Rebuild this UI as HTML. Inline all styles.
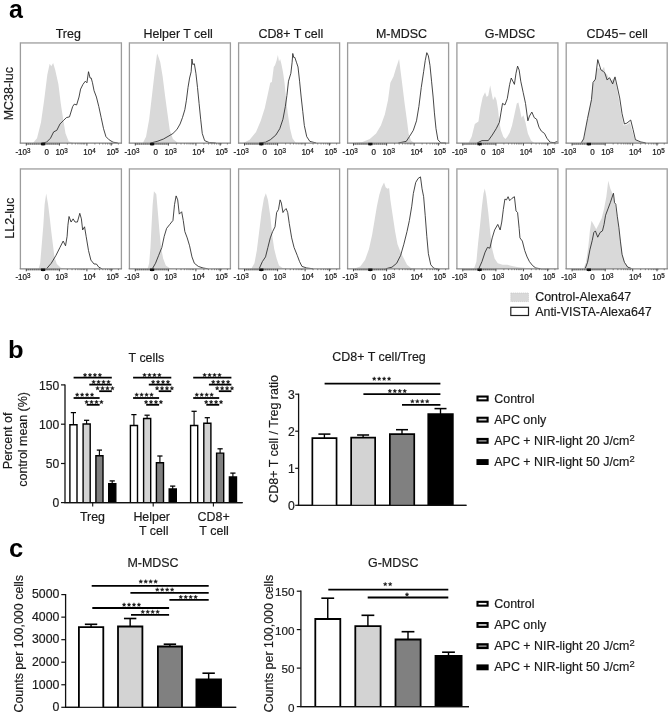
<!DOCTYPE html>
<html><head><meta charset="utf-8"><style>
html,body{margin:0;padding:0;background:#fff;}
body{width:669px;height:717px;overflow:hidden;}
svg{display:block;font-family:"Liberation Sans", sans-serif;will-change:transform;}
</style></head><body>
<svg width="669" height="717" viewBox="0 0 669 717">
<rect width="669" height="717" fill="#fff"/>
<text x="9.10" y="17.90" font-size="25" text-anchor="start" font-weight="bold" fill="#000" stroke="#000" stroke-width="0" >a</text>
<text x="68.25" y="37.80" font-size="12.45" text-anchor="middle" font-weight="normal" fill="#1a1a1a" stroke="#1a1a1a" stroke-width="0.18" >Treg</text>
<text x="178.10" y="37.80" font-size="12.45" text-anchor="middle" font-weight="normal" fill="#1a1a1a" stroke="#1a1a1a" stroke-width="0.18" >Helper T cell</text>
<text x="290.85" y="37.80" font-size="12.45" text-anchor="middle" font-weight="normal" fill="#1a1a1a" stroke="#1a1a1a" stroke-width="0.18" >CD8+ T cell</text>
<text x="401.50" y="37.80" font-size="12.45" text-anchor="middle" font-weight="normal" fill="#1a1a1a" stroke="#1a1a1a" stroke-width="0.18" >M-MDSC</text>
<text x="510.00" y="37.80" font-size="12.45" text-anchor="middle" font-weight="normal" fill="#1a1a1a" stroke="#1a1a1a" stroke-width="0.18" >G-MDSC</text>
<text x="617.20" y="37.80" font-size="12.45" text-anchor="middle" font-weight="normal" fill="#1a1a1a" stroke="#1a1a1a" stroke-width="0.18" >CD45− cell</text>
<text transform="translate(12.60,93.70) rotate(-90)" font-size="12.45" text-anchor="middle" fill="#1a1a1a" stroke="#1a1a1a" stroke-width="0.18">MC38-luc</text>
<text transform="translate(14.40,218.30) rotate(-90)" font-size="12.45" text-anchor="middle" fill="#1a1a1a" stroke="#1a1a1a" stroke-width="0.18">LL2-luc</text>
<path d="M33.05,142.99 L37.01,138.24 L40.97,122.39 L44.14,100.21 L47.31,74.86 L49.69,63.77 L51.27,66.14 L53.17,62.97 L55.23,70.10 L58.40,84.36 L60.78,103.38 L63.16,119.22 L65.53,133.48 L68.70,141.41 L73.46,142.67 L97.22,142.67 L119.41,142.99 L119.41,143.2 L33.05,143.2 Z" fill="#d9d9d9" stroke="none"/>
<path d="M41.77,142.99 L46.52,142.20 L50.48,138.24 L53.65,131.90 L56.82,130.31 L59.99,123.98 L63.16,120.81 L66.33,117.64 L69.49,116.85 L72.66,106.55 L74.25,104.17 L76.62,104.96 L79.00,97.04 L80.59,89.12 L82.96,84.36 L85.34,81.20 L86.92,82.78 L88.51,71.69 L90.09,78.03 L91.20,78.03 L92.47,82.78 L94.05,90.70 L96.43,97.04 L98.81,106.55 L101.18,117.64 L103.56,128.73 L105.94,136.65 L109.11,139.82 L113.07,142.20 L117.82,142.99" fill="none" stroke="#262626" stroke-width="0.85" stroke-linejoin="round"/>
<path d="M20.40,143.20 L20.40,42.90 L121.40,42.90 L121.40,143.20" fill="none" stroke="#9c9c9c" stroke-width="1.3"/>
<line x1="21.05" y1="42.90" x2="120.75" y2="42.90" stroke="#bcbcbc" stroke-width="1.3"/>
<line x1="19.75" y1="143.20" x2="122.05" y2="143.20" stroke="#858585" stroke-width="1.2"/>
<line x1="26.30" y1="144.10" x2="59.40" y2="144.10" stroke="#666" stroke-width="0.8"/>
<line x1="26.30" y1="143.2" x2="26.30" y2="145.6" stroke="#333" stroke-width="0.9"/>
<line x1="43.00" y1="143.2" x2="43.00" y2="145.6" stroke="#333" stroke-width="0.9"/>
<line x1="59.40" y1="143.2" x2="59.40" y2="145.6" stroke="#333" stroke-width="0.9"/>
<line x1="86.90" y1="143.2" x2="86.90" y2="145.6" stroke="#333" stroke-width="0.9"/>
<line x1="111.20" y1="143.2" x2="111.20" y2="145.6" stroke="#333" stroke-width="0.9"/>
<line x1="67.38" y1="143.2" x2="67.38" y2="144.5" stroke="#555" stroke-width="0.7"/>
<line x1="72.04" y1="143.2" x2="72.04" y2="144.5" stroke="#555" stroke-width="0.7"/>
<line x1="75.35" y1="143.2" x2="75.35" y2="144.5" stroke="#555" stroke-width="0.7"/>
<line x1="77.92" y1="143.2" x2="77.92" y2="144.5" stroke="#555" stroke-width="0.7"/>
<line x1="80.02" y1="143.2" x2="80.02" y2="144.5" stroke="#555" stroke-width="0.7"/>
<line x1="81.80" y1="143.2" x2="81.80" y2="144.5" stroke="#555" stroke-width="0.7"/>
<line x1="83.33" y1="143.2" x2="83.33" y2="144.5" stroke="#555" stroke-width="0.7"/>
<line x1="84.69" y1="143.2" x2="84.69" y2="144.5" stroke="#555" stroke-width="0.7"/>
<line x1="94.88" y1="143.2" x2="94.88" y2="144.5" stroke="#555" stroke-width="0.7"/>
<line x1="99.54" y1="143.2" x2="99.54" y2="144.5" stroke="#555" stroke-width="0.7"/>
<line x1="102.85" y1="143.2" x2="102.85" y2="144.5" stroke="#555" stroke-width="0.7"/>
<line x1="105.42" y1="143.2" x2="105.42" y2="144.5" stroke="#555" stroke-width="0.7"/>
<line x1="107.52" y1="143.2" x2="107.52" y2="144.5" stroke="#555" stroke-width="0.7"/>
<line x1="109.30" y1="143.2" x2="109.30" y2="144.5" stroke="#555" stroke-width="0.7"/>
<line x1="110.83" y1="143.2" x2="110.83" y2="144.5" stroke="#555" stroke-width="0.7"/>
<line x1="112.19" y1="143.2" x2="112.19" y2="144.5" stroke="#555" stroke-width="0.7"/>
<line x1="118.42" y1="143.2" x2="118.42" y2="144.5" stroke="#555" stroke-width="0.7"/>
<line x1="28.39" y1="143.2" x2="28.39" y2="144.5" stroke="#555" stroke-width="0.7"/>
<line x1="45.05" y1="143.2" x2="45.05" y2="144.5" stroke="#555" stroke-width="0.7"/>
<line x1="30.48" y1="143.2" x2="30.48" y2="144.5" stroke="#555" stroke-width="0.7"/>
<line x1="47.10" y1="143.2" x2="47.10" y2="144.5" stroke="#555" stroke-width="0.7"/>
<line x1="32.56" y1="143.2" x2="32.56" y2="144.5" stroke="#555" stroke-width="0.7"/>
<line x1="49.15" y1="143.2" x2="49.15" y2="144.5" stroke="#555" stroke-width="0.7"/>
<line x1="34.65" y1="143.2" x2="34.65" y2="144.5" stroke="#555" stroke-width="0.7"/>
<line x1="51.20" y1="143.2" x2="51.20" y2="144.5" stroke="#555" stroke-width="0.7"/>
<line x1="36.74" y1="143.2" x2="36.74" y2="144.5" stroke="#555" stroke-width="0.7"/>
<line x1="53.25" y1="143.2" x2="53.25" y2="144.5" stroke="#555" stroke-width="0.7"/>
<line x1="38.83" y1="143.2" x2="38.83" y2="144.5" stroke="#555" stroke-width="0.7"/>
<line x1="55.30" y1="143.2" x2="55.30" y2="144.5" stroke="#555" stroke-width="0.7"/>
<line x1="40.91" y1="143.2" x2="40.91" y2="144.5" stroke="#555" stroke-width="0.7"/>
<line x1="57.35" y1="143.2" x2="57.35" y2="144.5" stroke="#555" stroke-width="0.7"/>
<rect x="41.00" y="142.80" width="4.2" height="2.5" fill="#111"/>
<text x="15.40" y="154.6" font-size="8.2" fill="#1a1a1a" stroke="#1a1a1a" stroke-width="0.22" transform="translate(15.40,0) scale(0.98,1) translate(-15.40,0)">-10<tspan font-size="6.4" dy="-2.0">3</tspan></text>
<text x="44.40" y="154.6" font-size="8.2" fill="#1a1a1a" stroke="#1a1a1a" stroke-width="0.22" transform="translate(44.40,0) scale(0.98,1) translate(-44.40,0)">0</text>
<text x="55.40" y="154.6" font-size="8.2" fill="#1a1a1a" stroke="#1a1a1a" stroke-width="0.22" transform="translate(55.40,0) scale(0.98,1) translate(-55.40,0)">10<tspan font-size="6.4" dy="-2.0">3</tspan></text>
<text x="83.20" y="154.6" font-size="8.2" fill="#1a1a1a" stroke="#1a1a1a" stroke-width="0.22" transform="translate(83.20,0) scale(0.98,1) translate(-83.20,0)">10<tspan font-size="6.4" dy="-2.0">4</tspan></text>
<text x="106.40" y="154.6" font-size="8.2" fill="#1a1a1a" stroke="#1a1a1a" stroke-width="0.22" transform="translate(106.40,0) scale(0.98,1) translate(-106.40,0)">10<tspan font-size="6.4" dy="-2.0">5</tspan></text>
<path d="M142.84,142.99 L146.01,136.65 L149.18,119.22 L152.35,92.29 L154.73,71.69 L157.10,53.47 L158.69,57.43 L160.27,62.18 L162.65,76.44 L165.03,95.46 L167.40,112.88 L169.78,130.31 L172.95,139.03 L177.70,142.67 L180.87,142.99 L180.87,143.2 L142.84,143.2 Z" fill="#d9d9d9" stroke="none"/>
<path d="M150.77,142.99 L157.10,141.41 L163.44,139.03 L168.99,135.86 L172.95,133.48 L176.91,129.52 L180.08,123.98 L182.46,117.64 L184.83,109.72 L186.42,100.21 L188.00,87.53 L189.59,78.03 L191.17,71.69 L191.96,59.01 L192.75,64.56 L194.34,63.77 L195.92,73.27 L197.51,87.53 L199.09,103.38 L200.68,119.22 L202.26,133.48 L204.64,140.61 L209.39,142.67 L215.73,142.99" fill="none" stroke="#262626" stroke-width="0.85" stroke-linejoin="round"/>
<path d="M129.40,143.20 L129.40,42.90 L230.40,42.90 L230.40,143.20" fill="none" stroke="#9c9c9c" stroke-width="1.3"/>
<line x1="130.05" y1="42.90" x2="229.75" y2="42.90" stroke="#bcbcbc" stroke-width="1.3"/>
<line x1="128.75" y1="143.20" x2="231.05" y2="143.20" stroke="#858585" stroke-width="1.2"/>
<line x1="135.30" y1="144.10" x2="168.40" y2="144.10" stroke="#666" stroke-width="0.8"/>
<line x1="135.30" y1="143.2" x2="135.30" y2="145.6" stroke="#333" stroke-width="0.9"/>
<line x1="152.00" y1="143.2" x2="152.00" y2="145.6" stroke="#333" stroke-width="0.9"/>
<line x1="168.40" y1="143.2" x2="168.40" y2="145.6" stroke="#333" stroke-width="0.9"/>
<line x1="195.90" y1="143.2" x2="195.90" y2="145.6" stroke="#333" stroke-width="0.9"/>
<line x1="220.20" y1="143.2" x2="220.20" y2="145.6" stroke="#333" stroke-width="0.9"/>
<line x1="176.38" y1="143.2" x2="176.38" y2="144.5" stroke="#555" stroke-width="0.7"/>
<line x1="181.04" y1="143.2" x2="181.04" y2="144.5" stroke="#555" stroke-width="0.7"/>
<line x1="184.35" y1="143.2" x2="184.35" y2="144.5" stroke="#555" stroke-width="0.7"/>
<line x1="186.92" y1="143.2" x2="186.92" y2="144.5" stroke="#555" stroke-width="0.7"/>
<line x1="189.02" y1="143.2" x2="189.02" y2="144.5" stroke="#555" stroke-width="0.7"/>
<line x1="190.80" y1="143.2" x2="190.80" y2="144.5" stroke="#555" stroke-width="0.7"/>
<line x1="192.33" y1="143.2" x2="192.33" y2="144.5" stroke="#555" stroke-width="0.7"/>
<line x1="193.69" y1="143.2" x2="193.69" y2="144.5" stroke="#555" stroke-width="0.7"/>
<line x1="203.88" y1="143.2" x2="203.88" y2="144.5" stroke="#555" stroke-width="0.7"/>
<line x1="208.54" y1="143.2" x2="208.54" y2="144.5" stroke="#555" stroke-width="0.7"/>
<line x1="211.85" y1="143.2" x2="211.85" y2="144.5" stroke="#555" stroke-width="0.7"/>
<line x1="214.42" y1="143.2" x2="214.42" y2="144.5" stroke="#555" stroke-width="0.7"/>
<line x1="216.52" y1="143.2" x2="216.52" y2="144.5" stroke="#555" stroke-width="0.7"/>
<line x1="218.30" y1="143.2" x2="218.30" y2="144.5" stroke="#555" stroke-width="0.7"/>
<line x1="219.83" y1="143.2" x2="219.83" y2="144.5" stroke="#555" stroke-width="0.7"/>
<line x1="221.19" y1="143.2" x2="221.19" y2="144.5" stroke="#555" stroke-width="0.7"/>
<line x1="227.42" y1="143.2" x2="227.42" y2="144.5" stroke="#555" stroke-width="0.7"/>
<line x1="137.39" y1="143.2" x2="137.39" y2="144.5" stroke="#555" stroke-width="0.7"/>
<line x1="154.05" y1="143.2" x2="154.05" y2="144.5" stroke="#555" stroke-width="0.7"/>
<line x1="139.47" y1="143.2" x2="139.47" y2="144.5" stroke="#555" stroke-width="0.7"/>
<line x1="156.10" y1="143.2" x2="156.10" y2="144.5" stroke="#555" stroke-width="0.7"/>
<line x1="141.56" y1="143.2" x2="141.56" y2="144.5" stroke="#555" stroke-width="0.7"/>
<line x1="158.15" y1="143.2" x2="158.15" y2="144.5" stroke="#555" stroke-width="0.7"/>
<line x1="143.65" y1="143.2" x2="143.65" y2="144.5" stroke="#555" stroke-width="0.7"/>
<line x1="160.20" y1="143.2" x2="160.20" y2="144.5" stroke="#555" stroke-width="0.7"/>
<line x1="145.74" y1="143.2" x2="145.74" y2="144.5" stroke="#555" stroke-width="0.7"/>
<line x1="162.25" y1="143.2" x2="162.25" y2="144.5" stroke="#555" stroke-width="0.7"/>
<line x1="147.83" y1="143.2" x2="147.83" y2="144.5" stroke="#555" stroke-width="0.7"/>
<line x1="164.30" y1="143.2" x2="164.30" y2="144.5" stroke="#555" stroke-width="0.7"/>
<line x1="149.91" y1="143.2" x2="149.91" y2="144.5" stroke="#555" stroke-width="0.7"/>
<line x1="166.35" y1="143.2" x2="166.35" y2="144.5" stroke="#555" stroke-width="0.7"/>
<rect x="150.00" y="142.80" width="4.2" height="2.5" fill="#111"/>
<text x="124.40" y="154.6" font-size="8.2" fill="#1a1a1a" stroke="#1a1a1a" stroke-width="0.22" transform="translate(124.40,0) scale(0.98,1) translate(-124.40,0)">-10<tspan font-size="6.4" dy="-2.0">3</tspan></text>
<text x="153.40" y="154.6" font-size="8.2" fill="#1a1a1a" stroke="#1a1a1a" stroke-width="0.22" transform="translate(153.40,0) scale(0.98,1) translate(-153.40,0)">0</text>
<text x="164.40" y="154.6" font-size="8.2" fill="#1a1a1a" stroke="#1a1a1a" stroke-width="0.22" transform="translate(164.40,0) scale(0.98,1) translate(-164.40,0)">10<tspan font-size="6.4" dy="-2.0">3</tspan></text>
<text x="192.20" y="154.6" font-size="8.2" fill="#1a1a1a" stroke="#1a1a1a" stroke-width="0.22" transform="translate(192.20,0) scale(0.98,1) translate(-192.20,0)">10<tspan font-size="6.4" dy="-2.0">4</tspan></text>
<text x="215.40" y="154.6" font-size="8.2" fill="#1a1a1a" stroke="#1a1a1a" stroke-width="0.22" transform="translate(215.40,0) scale(0.98,1) translate(-215.40,0)">10<tspan font-size="6.4" dy="-2.0">5</tspan></text>
<path d="M243.34,142.99 L249.68,139.82 L256.01,131.90 L260.77,120.81 L264.73,108.13 L267.90,93.87 L270.27,82.78 L271.86,81.99 L273.76,66.94 L275.03,65.35 L276.61,60.60 L277.88,55.05 L278.99,61.39 L280.10,59.01 L281.36,63.77 L282.95,71.69 L284.53,82.78 L286.12,98.62 L287.70,112.88 L290.08,128.73 L292.46,138.24 L295.62,142.67 L298.79,142.99 L298.79,143.2 L243.34,143.2 Z" fill="#d9d9d9" stroke="none"/>
<path d="M259.18,142.99 L265.52,142.20 L270.27,139.82 L275.82,135.07 L279.78,128.73 L282.95,119.22 L285.33,106.55 L286.91,95.46 L288.49,81.20 L290.87,73.27 L292.14,62.18 L292.77,53.47 L293.72,57.43 L294.83,57.43 L296.42,62.18 L298.00,66.94 L299.59,81.20 L301.17,97.04 L302.75,111.30 L304.34,125.56 L306.72,136.65 L309.88,141.41 L316.22,142.99" fill="none" stroke="#262626" stroke-width="0.85" stroke-linejoin="round"/>
<path d="M238.60,143.20 L238.60,42.90 L339.60,42.90 L339.60,143.20" fill="none" stroke="#9c9c9c" stroke-width="1.3"/>
<line x1="239.25" y1="42.90" x2="338.95" y2="42.90" stroke="#bcbcbc" stroke-width="1.3"/>
<line x1="237.95" y1="143.20" x2="340.25" y2="143.20" stroke="#858585" stroke-width="1.2"/>
<line x1="244.50" y1="144.10" x2="277.60" y2="144.10" stroke="#666" stroke-width="0.8"/>
<line x1="244.50" y1="143.2" x2="244.50" y2="145.6" stroke="#333" stroke-width="0.9"/>
<line x1="261.20" y1="143.2" x2="261.20" y2="145.6" stroke="#333" stroke-width="0.9"/>
<line x1="277.60" y1="143.2" x2="277.60" y2="145.6" stroke="#333" stroke-width="0.9"/>
<line x1="305.10" y1="143.2" x2="305.10" y2="145.6" stroke="#333" stroke-width="0.9"/>
<line x1="329.40" y1="143.2" x2="329.40" y2="145.6" stroke="#333" stroke-width="0.9"/>
<line x1="285.58" y1="143.2" x2="285.58" y2="144.5" stroke="#555" stroke-width="0.7"/>
<line x1="290.24" y1="143.2" x2="290.24" y2="144.5" stroke="#555" stroke-width="0.7"/>
<line x1="293.55" y1="143.2" x2="293.55" y2="144.5" stroke="#555" stroke-width="0.7"/>
<line x1="296.12" y1="143.2" x2="296.12" y2="144.5" stroke="#555" stroke-width="0.7"/>
<line x1="298.22" y1="143.2" x2="298.22" y2="144.5" stroke="#555" stroke-width="0.7"/>
<line x1="300.00" y1="143.2" x2="300.00" y2="144.5" stroke="#555" stroke-width="0.7"/>
<line x1="301.53" y1="143.2" x2="301.53" y2="144.5" stroke="#555" stroke-width="0.7"/>
<line x1="302.89" y1="143.2" x2="302.89" y2="144.5" stroke="#555" stroke-width="0.7"/>
<line x1="313.08" y1="143.2" x2="313.08" y2="144.5" stroke="#555" stroke-width="0.7"/>
<line x1="317.74" y1="143.2" x2="317.74" y2="144.5" stroke="#555" stroke-width="0.7"/>
<line x1="321.05" y1="143.2" x2="321.05" y2="144.5" stroke="#555" stroke-width="0.7"/>
<line x1="323.62" y1="143.2" x2="323.62" y2="144.5" stroke="#555" stroke-width="0.7"/>
<line x1="325.72" y1="143.2" x2="325.72" y2="144.5" stroke="#555" stroke-width="0.7"/>
<line x1="327.50" y1="143.2" x2="327.50" y2="144.5" stroke="#555" stroke-width="0.7"/>
<line x1="329.03" y1="143.2" x2="329.03" y2="144.5" stroke="#555" stroke-width="0.7"/>
<line x1="330.39" y1="143.2" x2="330.39" y2="144.5" stroke="#555" stroke-width="0.7"/>
<line x1="336.62" y1="143.2" x2="336.62" y2="144.5" stroke="#555" stroke-width="0.7"/>
<line x1="246.59" y1="143.2" x2="246.59" y2="144.5" stroke="#555" stroke-width="0.7"/>
<line x1="263.25" y1="143.2" x2="263.25" y2="144.5" stroke="#555" stroke-width="0.7"/>
<line x1="248.67" y1="143.2" x2="248.67" y2="144.5" stroke="#555" stroke-width="0.7"/>
<line x1="265.30" y1="143.2" x2="265.30" y2="144.5" stroke="#555" stroke-width="0.7"/>
<line x1="250.76" y1="143.2" x2="250.76" y2="144.5" stroke="#555" stroke-width="0.7"/>
<line x1="267.35" y1="143.2" x2="267.35" y2="144.5" stroke="#555" stroke-width="0.7"/>
<line x1="252.85" y1="143.2" x2="252.85" y2="144.5" stroke="#555" stroke-width="0.7"/>
<line x1="269.40" y1="143.2" x2="269.40" y2="144.5" stroke="#555" stroke-width="0.7"/>
<line x1="254.94" y1="143.2" x2="254.94" y2="144.5" stroke="#555" stroke-width="0.7"/>
<line x1="271.45" y1="143.2" x2="271.45" y2="144.5" stroke="#555" stroke-width="0.7"/>
<line x1="257.02" y1="143.2" x2="257.02" y2="144.5" stroke="#555" stroke-width="0.7"/>
<line x1="273.50" y1="143.2" x2="273.50" y2="144.5" stroke="#555" stroke-width="0.7"/>
<line x1="259.11" y1="143.2" x2="259.11" y2="144.5" stroke="#555" stroke-width="0.7"/>
<line x1="275.55" y1="143.2" x2="275.55" y2="144.5" stroke="#555" stroke-width="0.7"/>
<rect x="259.20" y="142.80" width="4.2" height="2.5" fill="#111"/>
<text x="233.60" y="154.6" font-size="8.2" fill="#1a1a1a" stroke="#1a1a1a" stroke-width="0.22" transform="translate(233.60,0) scale(0.98,1) translate(-233.60,0)">-10<tspan font-size="6.4" dy="-2.0">3</tspan></text>
<text x="262.60" y="154.6" font-size="8.2" fill="#1a1a1a" stroke="#1a1a1a" stroke-width="0.22" transform="translate(262.60,0) scale(0.98,1) translate(-262.60,0)">0</text>
<text x="273.60" y="154.6" font-size="8.2" fill="#1a1a1a" stroke="#1a1a1a" stroke-width="0.22" transform="translate(273.60,0) scale(0.98,1) translate(-273.60,0)">10<tspan font-size="6.4" dy="-2.0">3</tspan></text>
<text x="301.40" y="154.6" font-size="8.2" fill="#1a1a1a" stroke="#1a1a1a" stroke-width="0.22" transform="translate(301.40,0) scale(0.98,1) translate(-301.40,0)">10<tspan font-size="6.4" dy="-2.0">4</tspan></text>
<text x="324.60" y="154.6" font-size="8.2" fill="#1a1a1a" stroke="#1a1a1a" stroke-width="0.22" transform="translate(324.60,0) scale(0.98,1) translate(-324.60,0)">10<tspan font-size="6.4" dy="-2.0">5</tspan></text>
<path d="M352.34,142.99 L361.84,142.20 L369.77,139.03 L376.10,133.48 L380.86,125.56 L384.82,114.47 L387.99,100.21 L390.36,82.78 L393.53,76.44 L395.91,68.52 L397.49,63.77 L399.08,59.01 L400.66,71.69 L402.25,84.36 L404.62,103.38 L407.00,120.81 L408.59,133.48 L410.96,140.61 L414.13,142.99 L414.13,143.2 L352.34,143.2 Z" fill="#d9d9d9" stroke="none"/>
<path d="M398.29,142.99 L406.21,141.41 L409.38,136.65 L413.34,130.31 L416.51,120.81 L418.88,106.55 L421.26,87.53 L423.64,71.69 L425.22,60.60 L426.81,52.68 L428.39,55.84 L429.98,65.35 L431.56,81.20 L433.14,97.04 L434.41,112.88 L436.00,128.73 L437.90,139.82 L441.07,142.99 L445.82,142.99" fill="none" stroke="#262626" stroke-width="0.85" stroke-linejoin="round"/>
<path d="M347.60,143.20 L347.60,42.90 L448.60,42.90 L448.60,143.20" fill="none" stroke="#9c9c9c" stroke-width="1.3"/>
<line x1="348.25" y1="42.90" x2="447.95" y2="42.90" stroke="#bcbcbc" stroke-width="1.3"/>
<line x1="346.95" y1="143.20" x2="449.25" y2="143.20" stroke="#858585" stroke-width="1.2"/>
<line x1="353.50" y1="144.10" x2="386.60" y2="144.10" stroke="#666" stroke-width="0.8"/>
<line x1="353.50" y1="143.2" x2="353.50" y2="145.6" stroke="#333" stroke-width="0.9"/>
<line x1="370.20" y1="143.2" x2="370.20" y2="145.6" stroke="#333" stroke-width="0.9"/>
<line x1="386.60" y1="143.2" x2="386.60" y2="145.6" stroke="#333" stroke-width="0.9"/>
<line x1="414.10" y1="143.2" x2="414.10" y2="145.6" stroke="#333" stroke-width="0.9"/>
<line x1="438.40" y1="143.2" x2="438.40" y2="145.6" stroke="#333" stroke-width="0.9"/>
<line x1="394.58" y1="143.2" x2="394.58" y2="144.5" stroke="#555" stroke-width="0.7"/>
<line x1="399.24" y1="143.2" x2="399.24" y2="144.5" stroke="#555" stroke-width="0.7"/>
<line x1="402.55" y1="143.2" x2="402.55" y2="144.5" stroke="#555" stroke-width="0.7"/>
<line x1="405.12" y1="143.2" x2="405.12" y2="144.5" stroke="#555" stroke-width="0.7"/>
<line x1="407.22" y1="143.2" x2="407.22" y2="144.5" stroke="#555" stroke-width="0.7"/>
<line x1="409.00" y1="143.2" x2="409.00" y2="144.5" stroke="#555" stroke-width="0.7"/>
<line x1="410.53" y1="143.2" x2="410.53" y2="144.5" stroke="#555" stroke-width="0.7"/>
<line x1="411.89" y1="143.2" x2="411.89" y2="144.5" stroke="#555" stroke-width="0.7"/>
<line x1="422.08" y1="143.2" x2="422.08" y2="144.5" stroke="#555" stroke-width="0.7"/>
<line x1="426.74" y1="143.2" x2="426.74" y2="144.5" stroke="#555" stroke-width="0.7"/>
<line x1="430.05" y1="143.2" x2="430.05" y2="144.5" stroke="#555" stroke-width="0.7"/>
<line x1="432.62" y1="143.2" x2="432.62" y2="144.5" stroke="#555" stroke-width="0.7"/>
<line x1="434.72" y1="143.2" x2="434.72" y2="144.5" stroke="#555" stroke-width="0.7"/>
<line x1="436.50" y1="143.2" x2="436.50" y2="144.5" stroke="#555" stroke-width="0.7"/>
<line x1="438.03" y1="143.2" x2="438.03" y2="144.5" stroke="#555" stroke-width="0.7"/>
<line x1="439.39" y1="143.2" x2="439.39" y2="144.5" stroke="#555" stroke-width="0.7"/>
<line x1="445.62" y1="143.2" x2="445.62" y2="144.5" stroke="#555" stroke-width="0.7"/>
<line x1="355.59" y1="143.2" x2="355.59" y2="144.5" stroke="#555" stroke-width="0.7"/>
<line x1="372.25" y1="143.2" x2="372.25" y2="144.5" stroke="#555" stroke-width="0.7"/>
<line x1="357.68" y1="143.2" x2="357.68" y2="144.5" stroke="#555" stroke-width="0.7"/>
<line x1="374.30" y1="143.2" x2="374.30" y2="144.5" stroke="#555" stroke-width="0.7"/>
<line x1="359.76" y1="143.2" x2="359.76" y2="144.5" stroke="#555" stroke-width="0.7"/>
<line x1="376.35" y1="143.2" x2="376.35" y2="144.5" stroke="#555" stroke-width="0.7"/>
<line x1="361.85" y1="143.2" x2="361.85" y2="144.5" stroke="#555" stroke-width="0.7"/>
<line x1="378.40" y1="143.2" x2="378.40" y2="144.5" stroke="#555" stroke-width="0.7"/>
<line x1="363.94" y1="143.2" x2="363.94" y2="144.5" stroke="#555" stroke-width="0.7"/>
<line x1="380.45" y1="143.2" x2="380.45" y2="144.5" stroke="#555" stroke-width="0.7"/>
<line x1="366.03" y1="143.2" x2="366.03" y2="144.5" stroke="#555" stroke-width="0.7"/>
<line x1="382.50" y1="143.2" x2="382.50" y2="144.5" stroke="#555" stroke-width="0.7"/>
<line x1="368.11" y1="143.2" x2="368.11" y2="144.5" stroke="#555" stroke-width="0.7"/>
<line x1="384.55" y1="143.2" x2="384.55" y2="144.5" stroke="#555" stroke-width="0.7"/>
<rect x="368.20" y="142.80" width="4.2" height="2.5" fill="#111"/>
<text x="342.60" y="154.6" font-size="8.2" fill="#1a1a1a" stroke="#1a1a1a" stroke-width="0.22" transform="translate(342.60,0) scale(0.98,1) translate(-342.60,0)">-10<tspan font-size="6.4" dy="-2.0">3</tspan></text>
<text x="371.60" y="154.6" font-size="8.2" fill="#1a1a1a" stroke="#1a1a1a" stroke-width="0.22" transform="translate(371.60,0) scale(0.98,1) translate(-371.60,0)">0</text>
<text x="382.60" y="154.6" font-size="8.2" fill="#1a1a1a" stroke="#1a1a1a" stroke-width="0.22" transform="translate(382.60,0) scale(0.98,1) translate(-382.60,0)">10<tspan font-size="6.4" dy="-2.0">3</tspan></text>
<text x="410.40" y="154.6" font-size="8.2" fill="#1a1a1a" stroke="#1a1a1a" stroke-width="0.22" transform="translate(410.40,0) scale(0.98,1) translate(-410.40,0)">10<tspan font-size="6.4" dy="-2.0">4</tspan></text>
<text x="433.60" y="154.6" font-size="8.2" fill="#1a1a1a" stroke="#1a1a1a" stroke-width="0.22" transform="translate(433.60,0) scale(0.98,1) translate(-433.60,0)">10<tspan font-size="6.4" dy="-2.0">5</tspan></text>
<path d="M468.47,142.99 L471.64,136.65 L474.81,123.98 L478.45,121.60 L480.35,108.13 L482.73,97.04 L485.10,92.29 L486.69,97.04 L488.27,95.46 L490.17,85.16 L491.76,93.87 L493.03,100.21 L494.93,96.25 L496.51,100.21 L498.10,109.72 L499.36,122.39 L500.95,130.31 L503.33,136.65 L505.39,139.03 L507.29,136.65 L509.66,132.69 L512.04,125.56 L514.42,114.47 L516.79,103.38 L518.38,102.59 L519.96,109.72 L521.55,117.64 L523.45,115.26 L525.51,122.39 L527.88,133.48 L531.05,140.61 L534.22,142.99 L534.22,143.2 L468.47,143.2 Z" fill="#d9d9d9" stroke="none"/>
<path d="M477.18,142.99 L481.94,140.61 L488.27,140.61 L492.23,135.07 L496.20,128.73 L499.36,122.39 L500.95,112.88 L502.53,103.38 L504.91,104.96 L507.29,98.62 L509.66,84.36 L511.25,78.03 L514.42,84.36 L516.00,73.27 L517.59,66.14 L519.17,70.10 L520.75,81.20 L523.13,92.29 L525.51,103.38 L527.88,120.81 L529.47,116.05 L531.85,112.09 L534.22,117.64 L536.60,119.22 L538.98,127.14 L541.35,131.11 L544.52,133.48 L546.90,138.24 L550.07,142.20 L554.03,142.67 L557.67,141.41" fill="none" stroke="#262626" stroke-width="0.85" stroke-linejoin="round"/>
<path d="M456.90,143.20 L456.90,42.90 L557.90,42.90 L557.90,143.20" fill="none" stroke="#9c9c9c" stroke-width="1.3"/>
<line x1="457.55" y1="42.90" x2="557.25" y2="42.90" stroke="#bcbcbc" stroke-width="1.3"/>
<line x1="456.25" y1="143.20" x2="558.55" y2="143.20" stroke="#858585" stroke-width="1.2"/>
<line x1="462.80" y1="144.10" x2="495.90" y2="144.10" stroke="#666" stroke-width="0.8"/>
<line x1="462.80" y1="143.2" x2="462.80" y2="145.6" stroke="#333" stroke-width="0.9"/>
<line x1="479.50" y1="143.2" x2="479.50" y2="145.6" stroke="#333" stroke-width="0.9"/>
<line x1="495.90" y1="143.2" x2="495.90" y2="145.6" stroke="#333" stroke-width="0.9"/>
<line x1="523.40" y1="143.2" x2="523.40" y2="145.6" stroke="#333" stroke-width="0.9"/>
<line x1="547.70" y1="143.2" x2="547.70" y2="145.6" stroke="#333" stroke-width="0.9"/>
<line x1="503.88" y1="143.2" x2="503.88" y2="144.5" stroke="#555" stroke-width="0.7"/>
<line x1="508.54" y1="143.2" x2="508.54" y2="144.5" stroke="#555" stroke-width="0.7"/>
<line x1="511.85" y1="143.2" x2="511.85" y2="144.5" stroke="#555" stroke-width="0.7"/>
<line x1="514.42" y1="143.2" x2="514.42" y2="144.5" stroke="#555" stroke-width="0.7"/>
<line x1="516.52" y1="143.2" x2="516.52" y2="144.5" stroke="#555" stroke-width="0.7"/>
<line x1="518.30" y1="143.2" x2="518.30" y2="144.5" stroke="#555" stroke-width="0.7"/>
<line x1="519.83" y1="143.2" x2="519.83" y2="144.5" stroke="#555" stroke-width="0.7"/>
<line x1="521.19" y1="143.2" x2="521.19" y2="144.5" stroke="#555" stroke-width="0.7"/>
<line x1="531.38" y1="143.2" x2="531.38" y2="144.5" stroke="#555" stroke-width="0.7"/>
<line x1="536.04" y1="143.2" x2="536.04" y2="144.5" stroke="#555" stroke-width="0.7"/>
<line x1="539.35" y1="143.2" x2="539.35" y2="144.5" stroke="#555" stroke-width="0.7"/>
<line x1="541.92" y1="143.2" x2="541.92" y2="144.5" stroke="#555" stroke-width="0.7"/>
<line x1="544.02" y1="143.2" x2="544.02" y2="144.5" stroke="#555" stroke-width="0.7"/>
<line x1="545.80" y1="143.2" x2="545.80" y2="144.5" stroke="#555" stroke-width="0.7"/>
<line x1="547.33" y1="143.2" x2="547.33" y2="144.5" stroke="#555" stroke-width="0.7"/>
<line x1="548.69" y1="143.2" x2="548.69" y2="144.5" stroke="#555" stroke-width="0.7"/>
<line x1="554.92" y1="143.2" x2="554.92" y2="144.5" stroke="#555" stroke-width="0.7"/>
<line x1="464.89" y1="143.2" x2="464.89" y2="144.5" stroke="#555" stroke-width="0.7"/>
<line x1="481.55" y1="143.2" x2="481.55" y2="144.5" stroke="#555" stroke-width="0.7"/>
<line x1="466.97" y1="143.2" x2="466.97" y2="144.5" stroke="#555" stroke-width="0.7"/>
<line x1="483.60" y1="143.2" x2="483.60" y2="144.5" stroke="#555" stroke-width="0.7"/>
<line x1="469.06" y1="143.2" x2="469.06" y2="144.5" stroke="#555" stroke-width="0.7"/>
<line x1="485.65" y1="143.2" x2="485.65" y2="144.5" stroke="#555" stroke-width="0.7"/>
<line x1="471.15" y1="143.2" x2="471.15" y2="144.5" stroke="#555" stroke-width="0.7"/>
<line x1="487.70" y1="143.2" x2="487.70" y2="144.5" stroke="#555" stroke-width="0.7"/>
<line x1="473.24" y1="143.2" x2="473.24" y2="144.5" stroke="#555" stroke-width="0.7"/>
<line x1="489.75" y1="143.2" x2="489.75" y2="144.5" stroke="#555" stroke-width="0.7"/>
<line x1="475.32" y1="143.2" x2="475.32" y2="144.5" stroke="#555" stroke-width="0.7"/>
<line x1="491.80" y1="143.2" x2="491.80" y2="144.5" stroke="#555" stroke-width="0.7"/>
<line x1="477.41" y1="143.2" x2="477.41" y2="144.5" stroke="#555" stroke-width="0.7"/>
<line x1="493.85" y1="143.2" x2="493.85" y2="144.5" stroke="#555" stroke-width="0.7"/>
<rect x="477.50" y="142.80" width="4.2" height="2.5" fill="#111"/>
<text x="451.90" y="154.6" font-size="8.2" fill="#1a1a1a" stroke="#1a1a1a" stroke-width="0.22" transform="translate(451.90,0) scale(0.98,1) translate(-451.90,0)">-10<tspan font-size="6.4" dy="-2.0">3</tspan></text>
<text x="480.90" y="154.6" font-size="8.2" fill="#1a1a1a" stroke="#1a1a1a" stroke-width="0.22" transform="translate(480.90,0) scale(0.98,1) translate(-480.90,0)">0</text>
<text x="491.90" y="154.6" font-size="8.2" fill="#1a1a1a" stroke="#1a1a1a" stroke-width="0.22" transform="translate(491.90,0) scale(0.98,1) translate(-491.90,0)">10<tspan font-size="6.4" dy="-2.0">3</tspan></text>
<text x="519.70" y="154.6" font-size="8.2" fill="#1a1a1a" stroke="#1a1a1a" stroke-width="0.22" transform="translate(519.70,0) scale(0.98,1) translate(-519.70,0)">10<tspan font-size="6.4" dy="-2.0">4</tspan></text>
<text x="542.90" y="154.6" font-size="8.2" fill="#1a1a1a" stroke="#1a1a1a" stroke-width="0.22" transform="translate(542.90,0) scale(0.98,1) translate(-542.90,0)">10<tspan font-size="6.4" dy="-2.0">5</tspan></text>
<path d="M581.26,142.80 L584.40,137.31 L587.54,118.48 L590.68,102.78 L593.04,83.95 L595.39,77.67 L596.96,68.25 L599.31,68.25 L601.67,70.61 L604.02,66.68 L605.59,73.74 L607.16,74.53 L608.73,77.67 L611.09,80.81 L614.22,77.67 L616.58,87.09 L618.93,99.64 L621.29,113.77 L623.64,125.54 L626.78,124.75 L629.92,122.40 L632.27,131.03 L634.63,138.88 L639.34,142.02 L645.61,142.80 L645.61,143.2 L581.26,143.2 Z" fill="#d9d9d9" stroke="none"/>
<path d="M581.26,142.80 L583.62,138.88 L587.54,118.48 L591.47,99.64 L593.04,82.38 L595.39,79.24 L597.74,59.62 L600.88,69.82 L603.24,71.39 L604.81,72.96 L607.16,80.02 L609.52,77.67 L612.65,83.95 L615.01,76.88 L617.36,87.09 L619.72,98.07 L622.07,113.77 L624.43,123.97 L626.78,123.18 L630.70,120.04 L633.06,129.46 L635.41,139.66 L640.91,142.02 L645.61,142.80" fill="none" stroke="#262626" stroke-width="0.85" stroke-linejoin="round"/>
<path d="M566.20,143.20 L566.20,42.90 L667.20,42.90 L667.20,143.20" fill="none" stroke="#9c9c9c" stroke-width="1.3"/>
<line x1="566.85" y1="42.90" x2="666.55" y2="42.90" stroke="#bcbcbc" stroke-width="1.3"/>
<line x1="565.55" y1="143.20" x2="667.85" y2="143.20" stroke="#858585" stroke-width="1.2"/>
<line x1="572.10" y1="144.10" x2="605.20" y2="144.10" stroke="#666" stroke-width="0.8"/>
<line x1="572.10" y1="143.2" x2="572.10" y2="145.6" stroke="#333" stroke-width="0.9"/>
<line x1="588.80" y1="143.2" x2="588.80" y2="145.6" stroke="#333" stroke-width="0.9"/>
<line x1="605.20" y1="143.2" x2="605.20" y2="145.6" stroke="#333" stroke-width="0.9"/>
<line x1="632.70" y1="143.2" x2="632.70" y2="145.6" stroke="#333" stroke-width="0.9"/>
<line x1="657.00" y1="143.2" x2="657.00" y2="145.6" stroke="#333" stroke-width="0.9"/>
<line x1="613.18" y1="143.2" x2="613.18" y2="144.5" stroke="#555" stroke-width="0.7"/>
<line x1="617.84" y1="143.2" x2="617.84" y2="144.5" stroke="#555" stroke-width="0.7"/>
<line x1="621.15" y1="143.2" x2="621.15" y2="144.5" stroke="#555" stroke-width="0.7"/>
<line x1="623.72" y1="143.2" x2="623.72" y2="144.5" stroke="#555" stroke-width="0.7"/>
<line x1="625.82" y1="143.2" x2="625.82" y2="144.5" stroke="#555" stroke-width="0.7"/>
<line x1="627.60" y1="143.2" x2="627.60" y2="144.5" stroke="#555" stroke-width="0.7"/>
<line x1="629.13" y1="143.2" x2="629.13" y2="144.5" stroke="#555" stroke-width="0.7"/>
<line x1="630.49" y1="143.2" x2="630.49" y2="144.5" stroke="#555" stroke-width="0.7"/>
<line x1="640.68" y1="143.2" x2="640.68" y2="144.5" stroke="#555" stroke-width="0.7"/>
<line x1="645.34" y1="143.2" x2="645.34" y2="144.5" stroke="#555" stroke-width="0.7"/>
<line x1="648.65" y1="143.2" x2="648.65" y2="144.5" stroke="#555" stroke-width="0.7"/>
<line x1="651.22" y1="143.2" x2="651.22" y2="144.5" stroke="#555" stroke-width="0.7"/>
<line x1="653.32" y1="143.2" x2="653.32" y2="144.5" stroke="#555" stroke-width="0.7"/>
<line x1="655.10" y1="143.2" x2="655.10" y2="144.5" stroke="#555" stroke-width="0.7"/>
<line x1="656.63" y1="143.2" x2="656.63" y2="144.5" stroke="#555" stroke-width="0.7"/>
<line x1="657.99" y1="143.2" x2="657.99" y2="144.5" stroke="#555" stroke-width="0.7"/>
<line x1="664.22" y1="143.2" x2="664.22" y2="144.5" stroke="#555" stroke-width="0.7"/>
<line x1="574.19" y1="143.2" x2="574.19" y2="144.5" stroke="#555" stroke-width="0.7"/>
<line x1="590.85" y1="143.2" x2="590.85" y2="144.5" stroke="#555" stroke-width="0.7"/>
<line x1="576.28" y1="143.2" x2="576.28" y2="144.5" stroke="#555" stroke-width="0.7"/>
<line x1="592.90" y1="143.2" x2="592.90" y2="144.5" stroke="#555" stroke-width="0.7"/>
<line x1="578.36" y1="143.2" x2="578.36" y2="144.5" stroke="#555" stroke-width="0.7"/>
<line x1="594.95" y1="143.2" x2="594.95" y2="144.5" stroke="#555" stroke-width="0.7"/>
<line x1="580.45" y1="143.2" x2="580.45" y2="144.5" stroke="#555" stroke-width="0.7"/>
<line x1="597.00" y1="143.2" x2="597.00" y2="144.5" stroke="#555" stroke-width="0.7"/>
<line x1="582.54" y1="143.2" x2="582.54" y2="144.5" stroke="#555" stroke-width="0.7"/>
<line x1="599.05" y1="143.2" x2="599.05" y2="144.5" stroke="#555" stroke-width="0.7"/>
<line x1="584.62" y1="143.2" x2="584.62" y2="144.5" stroke="#555" stroke-width="0.7"/>
<line x1="601.10" y1="143.2" x2="601.10" y2="144.5" stroke="#555" stroke-width="0.7"/>
<line x1="586.71" y1="143.2" x2="586.71" y2="144.5" stroke="#555" stroke-width="0.7"/>
<line x1="603.15" y1="143.2" x2="603.15" y2="144.5" stroke="#555" stroke-width="0.7"/>
<rect x="586.80" y="142.80" width="4.2" height="2.5" fill="#111"/>
<text x="561.20" y="154.6" font-size="8.2" fill="#1a1a1a" stroke="#1a1a1a" stroke-width="0.22" transform="translate(561.20,0) scale(0.98,1) translate(-561.20,0)">-10<tspan font-size="6.4" dy="-2.0">3</tspan></text>
<text x="590.20" y="154.6" font-size="8.2" fill="#1a1a1a" stroke="#1a1a1a" stroke-width="0.22" transform="translate(590.20,0) scale(0.98,1) translate(-590.20,0)">0</text>
<text x="601.20" y="154.6" font-size="8.2" fill="#1a1a1a" stroke="#1a1a1a" stroke-width="0.22" transform="translate(601.20,0) scale(0.98,1) translate(-601.20,0)">10<tspan font-size="6.4" dy="-2.0">3</tspan></text>
<text x="629.00" y="154.6" font-size="8.2" fill="#1a1a1a" stroke="#1a1a1a" stroke-width="0.22" transform="translate(629.00,0) scale(0.98,1) translate(-629.00,0)">10<tspan font-size="6.4" dy="-2.0">4</tspan></text>
<text x="652.20" y="154.6" font-size="8.2" fill="#1a1a1a" stroke="#1a1a1a" stroke-width="0.22" transform="translate(652.20,0) scale(0.98,1) translate(-652.20,0)">10<tspan font-size="6.4" dy="-2.0">5</tspan></text>
<path d="M38.60,268.78 L40.18,263.24 L41.77,244.22 L43.35,225.21 L44.62,204.61 L46.20,193.52 L48.10,204.61 L49.69,217.29 L51.27,231.55 L52.86,244.22 L54.44,256.90 L56.82,264.03 L60.78,267.67 L65.53,268.78 L65.53,268.9 L38.60,268.9 Z" fill="#d9d9d9" stroke="none"/>
<path d="M46.52,268.78 L51.27,263.24 L56.03,255.31 L59.99,247.39 L63.16,241.05 L65.53,245.81 L67.12,236.30 L67.91,225.21 L69.02,216.49 L71.08,222.04 L73.14,218.87 L75.04,222.04 L77.42,222.04 L79.79,213.33 L81.38,218.87 L82.65,229.96 L84.55,226.79 L86.13,236.30 L88.51,250.56 L90.88,260.07 L94.05,264.03 L96.43,264.03 L98.81,267.20 L101.98,268.78" fill="none" stroke="#262626" stroke-width="0.85" stroke-linejoin="round"/>
<path d="M20.40,268.90 L20.40,168.80 L121.40,168.80 L121.40,268.90" fill="none" stroke="#9c9c9c" stroke-width="1.3"/>
<line x1="21.05" y1="168.80" x2="120.75" y2="168.80" stroke="#bcbcbc" stroke-width="1.3"/>
<line x1="19.75" y1="268.90" x2="122.05" y2="268.90" stroke="#858585" stroke-width="1.2"/>
<line x1="26.30" y1="269.80" x2="59.40" y2="269.80" stroke="#666" stroke-width="0.8"/>
<line x1="26.30" y1="268.9" x2="26.30" y2="271.29999999999995" stroke="#333" stroke-width="0.9"/>
<line x1="43.00" y1="268.9" x2="43.00" y2="271.29999999999995" stroke="#333" stroke-width="0.9"/>
<line x1="59.40" y1="268.9" x2="59.40" y2="271.29999999999995" stroke="#333" stroke-width="0.9"/>
<line x1="86.90" y1="268.9" x2="86.90" y2="271.29999999999995" stroke="#333" stroke-width="0.9"/>
<line x1="111.20" y1="268.9" x2="111.20" y2="271.29999999999995" stroke="#333" stroke-width="0.9"/>
<line x1="67.38" y1="268.9" x2="67.38" y2="270.2" stroke="#555" stroke-width="0.7"/>
<line x1="72.04" y1="268.9" x2="72.04" y2="270.2" stroke="#555" stroke-width="0.7"/>
<line x1="75.35" y1="268.9" x2="75.35" y2="270.2" stroke="#555" stroke-width="0.7"/>
<line x1="77.92" y1="268.9" x2="77.92" y2="270.2" stroke="#555" stroke-width="0.7"/>
<line x1="80.02" y1="268.9" x2="80.02" y2="270.2" stroke="#555" stroke-width="0.7"/>
<line x1="81.80" y1="268.9" x2="81.80" y2="270.2" stroke="#555" stroke-width="0.7"/>
<line x1="83.33" y1="268.9" x2="83.33" y2="270.2" stroke="#555" stroke-width="0.7"/>
<line x1="84.69" y1="268.9" x2="84.69" y2="270.2" stroke="#555" stroke-width="0.7"/>
<line x1="94.88" y1="268.9" x2="94.88" y2="270.2" stroke="#555" stroke-width="0.7"/>
<line x1="99.54" y1="268.9" x2="99.54" y2="270.2" stroke="#555" stroke-width="0.7"/>
<line x1="102.85" y1="268.9" x2="102.85" y2="270.2" stroke="#555" stroke-width="0.7"/>
<line x1="105.42" y1="268.9" x2="105.42" y2="270.2" stroke="#555" stroke-width="0.7"/>
<line x1="107.52" y1="268.9" x2="107.52" y2="270.2" stroke="#555" stroke-width="0.7"/>
<line x1="109.30" y1="268.9" x2="109.30" y2="270.2" stroke="#555" stroke-width="0.7"/>
<line x1="110.83" y1="268.9" x2="110.83" y2="270.2" stroke="#555" stroke-width="0.7"/>
<line x1="112.19" y1="268.9" x2="112.19" y2="270.2" stroke="#555" stroke-width="0.7"/>
<line x1="118.42" y1="268.9" x2="118.42" y2="270.2" stroke="#555" stroke-width="0.7"/>
<line x1="28.39" y1="268.9" x2="28.39" y2="270.2" stroke="#555" stroke-width="0.7"/>
<line x1="45.05" y1="268.9" x2="45.05" y2="270.2" stroke="#555" stroke-width="0.7"/>
<line x1="30.48" y1="268.9" x2="30.48" y2="270.2" stroke="#555" stroke-width="0.7"/>
<line x1="47.10" y1="268.9" x2="47.10" y2="270.2" stroke="#555" stroke-width="0.7"/>
<line x1="32.56" y1="268.9" x2="32.56" y2="270.2" stroke="#555" stroke-width="0.7"/>
<line x1="49.15" y1="268.9" x2="49.15" y2="270.2" stroke="#555" stroke-width="0.7"/>
<line x1="34.65" y1="268.9" x2="34.65" y2="270.2" stroke="#555" stroke-width="0.7"/>
<line x1="51.20" y1="268.9" x2="51.20" y2="270.2" stroke="#555" stroke-width="0.7"/>
<line x1="36.74" y1="268.9" x2="36.74" y2="270.2" stroke="#555" stroke-width="0.7"/>
<line x1="53.25" y1="268.9" x2="53.25" y2="270.2" stroke="#555" stroke-width="0.7"/>
<line x1="38.83" y1="268.9" x2="38.83" y2="270.2" stroke="#555" stroke-width="0.7"/>
<line x1="55.30" y1="268.9" x2="55.30" y2="270.2" stroke="#555" stroke-width="0.7"/>
<line x1="40.91" y1="268.9" x2="40.91" y2="270.2" stroke="#555" stroke-width="0.7"/>
<line x1="57.35" y1="268.9" x2="57.35" y2="270.2" stroke="#555" stroke-width="0.7"/>
<rect x="41.00" y="268.50" width="4.2" height="2.5" fill="#111"/>
<text x="15.40" y="280.5" font-size="8.2" fill="#1a1a1a" stroke="#1a1a1a" stroke-width="0.22" transform="translate(15.40,0) scale(0.98,1) translate(-15.40,0)">-10<tspan font-size="6.4" dy="-2.0">3</tspan></text>
<text x="44.40" y="280.5" font-size="8.2" fill="#1a1a1a" stroke="#1a1a1a" stroke-width="0.22" transform="translate(44.40,0) scale(0.98,1) translate(-44.40,0)">0</text>
<text x="55.40" y="280.5" font-size="8.2" fill="#1a1a1a" stroke="#1a1a1a" stroke-width="0.22" transform="translate(55.40,0) scale(0.98,1) translate(-55.40,0)">10<tspan font-size="6.4" dy="-2.0">3</tspan></text>
<text x="83.20" y="280.5" font-size="8.2" fill="#1a1a1a" stroke="#1a1a1a" stroke-width="0.22" transform="translate(83.20,0) scale(0.98,1) translate(-83.20,0)">10<tspan font-size="6.4" dy="-2.0">4</tspan></text>
<text x="106.40" y="280.5" font-size="8.2" fill="#1a1a1a" stroke="#1a1a1a" stroke-width="0.22" transform="translate(106.40,0) scale(0.98,1) translate(-106.40,0)">10<tspan font-size="6.4" dy="-2.0">5</tspan></text>
<path d="M147.60,268.78 L149.18,263.24 L150.45,247.39 L151.56,225.21 L152.67,204.61 L153.94,191.14 L156.31,194.31 L157.90,212.53 L159.48,231.55 L161.07,247.39 L163.13,258.48 L165.82,265.61 L169.78,268.31 L174.53,268.78 L174.53,268.9 L147.60,268.9 Z" fill="#d9d9d9" stroke="none"/>
<path d="M152.35,268.78 L155.52,263.24 L158.69,255.31 L161.86,247.39 L164.23,236.30 L166.61,228.38 L169.78,224.42 L172.95,220.46 L174.53,204.61 L176.12,195.90 L177.70,199.86 L179.29,214.12 L181.66,211.74 L183.25,220.46 L184.83,231.55 L187.21,237.88 L189.59,245.81 L191.96,256.90 L194.34,263.24 L198.30,266.41 L203.05,267.99 L207.81,268.78" fill="none" stroke="#262626" stroke-width="0.85" stroke-linejoin="round"/>
<path d="M129.40,268.90 L129.40,168.80 L230.40,168.80 L230.40,268.90" fill="none" stroke="#9c9c9c" stroke-width="1.3"/>
<line x1="130.05" y1="168.80" x2="229.75" y2="168.80" stroke="#bcbcbc" stroke-width="1.3"/>
<line x1="128.75" y1="268.90" x2="231.05" y2="268.90" stroke="#858585" stroke-width="1.2"/>
<line x1="135.30" y1="269.80" x2="168.40" y2="269.80" stroke="#666" stroke-width="0.8"/>
<line x1="135.30" y1="268.9" x2="135.30" y2="271.29999999999995" stroke="#333" stroke-width="0.9"/>
<line x1="152.00" y1="268.9" x2="152.00" y2="271.29999999999995" stroke="#333" stroke-width="0.9"/>
<line x1="168.40" y1="268.9" x2="168.40" y2="271.29999999999995" stroke="#333" stroke-width="0.9"/>
<line x1="195.90" y1="268.9" x2="195.90" y2="271.29999999999995" stroke="#333" stroke-width="0.9"/>
<line x1="220.20" y1="268.9" x2="220.20" y2="271.29999999999995" stroke="#333" stroke-width="0.9"/>
<line x1="176.38" y1="268.9" x2="176.38" y2="270.2" stroke="#555" stroke-width="0.7"/>
<line x1="181.04" y1="268.9" x2="181.04" y2="270.2" stroke="#555" stroke-width="0.7"/>
<line x1="184.35" y1="268.9" x2="184.35" y2="270.2" stroke="#555" stroke-width="0.7"/>
<line x1="186.92" y1="268.9" x2="186.92" y2="270.2" stroke="#555" stroke-width="0.7"/>
<line x1="189.02" y1="268.9" x2="189.02" y2="270.2" stroke="#555" stroke-width="0.7"/>
<line x1="190.80" y1="268.9" x2="190.80" y2="270.2" stroke="#555" stroke-width="0.7"/>
<line x1="192.33" y1="268.9" x2="192.33" y2="270.2" stroke="#555" stroke-width="0.7"/>
<line x1="193.69" y1="268.9" x2="193.69" y2="270.2" stroke="#555" stroke-width="0.7"/>
<line x1="203.88" y1="268.9" x2="203.88" y2="270.2" stroke="#555" stroke-width="0.7"/>
<line x1="208.54" y1="268.9" x2="208.54" y2="270.2" stroke="#555" stroke-width="0.7"/>
<line x1="211.85" y1="268.9" x2="211.85" y2="270.2" stroke="#555" stroke-width="0.7"/>
<line x1="214.42" y1="268.9" x2="214.42" y2="270.2" stroke="#555" stroke-width="0.7"/>
<line x1="216.52" y1="268.9" x2="216.52" y2="270.2" stroke="#555" stroke-width="0.7"/>
<line x1="218.30" y1="268.9" x2="218.30" y2="270.2" stroke="#555" stroke-width="0.7"/>
<line x1="219.83" y1="268.9" x2="219.83" y2="270.2" stroke="#555" stroke-width="0.7"/>
<line x1="221.19" y1="268.9" x2="221.19" y2="270.2" stroke="#555" stroke-width="0.7"/>
<line x1="227.42" y1="268.9" x2="227.42" y2="270.2" stroke="#555" stroke-width="0.7"/>
<line x1="137.39" y1="268.9" x2="137.39" y2="270.2" stroke="#555" stroke-width="0.7"/>
<line x1="154.05" y1="268.9" x2="154.05" y2="270.2" stroke="#555" stroke-width="0.7"/>
<line x1="139.47" y1="268.9" x2="139.47" y2="270.2" stroke="#555" stroke-width="0.7"/>
<line x1="156.10" y1="268.9" x2="156.10" y2="270.2" stroke="#555" stroke-width="0.7"/>
<line x1="141.56" y1="268.9" x2="141.56" y2="270.2" stroke="#555" stroke-width="0.7"/>
<line x1="158.15" y1="268.9" x2="158.15" y2="270.2" stroke="#555" stroke-width="0.7"/>
<line x1="143.65" y1="268.9" x2="143.65" y2="270.2" stroke="#555" stroke-width="0.7"/>
<line x1="160.20" y1="268.9" x2="160.20" y2="270.2" stroke="#555" stroke-width="0.7"/>
<line x1="145.74" y1="268.9" x2="145.74" y2="270.2" stroke="#555" stroke-width="0.7"/>
<line x1="162.25" y1="268.9" x2="162.25" y2="270.2" stroke="#555" stroke-width="0.7"/>
<line x1="147.83" y1="268.9" x2="147.83" y2="270.2" stroke="#555" stroke-width="0.7"/>
<line x1="164.30" y1="268.9" x2="164.30" y2="270.2" stroke="#555" stroke-width="0.7"/>
<line x1="149.91" y1="268.9" x2="149.91" y2="270.2" stroke="#555" stroke-width="0.7"/>
<line x1="166.35" y1="268.9" x2="166.35" y2="270.2" stroke="#555" stroke-width="0.7"/>
<rect x="150.00" y="268.50" width="4.2" height="2.5" fill="#111"/>
<text x="124.40" y="280.5" font-size="8.2" fill="#1a1a1a" stroke="#1a1a1a" stroke-width="0.22" transform="translate(124.40,0) scale(0.98,1) translate(-124.40,0)">-10<tspan font-size="6.4" dy="-2.0">3</tspan></text>
<text x="153.40" y="280.5" font-size="8.2" fill="#1a1a1a" stroke="#1a1a1a" stroke-width="0.22" transform="translate(153.40,0) scale(0.98,1) translate(-153.40,0)">0</text>
<text x="164.40" y="280.5" font-size="8.2" fill="#1a1a1a" stroke="#1a1a1a" stroke-width="0.22" transform="translate(164.40,0) scale(0.98,1) translate(-164.40,0)">10<tspan font-size="6.4" dy="-2.0">3</tspan></text>
<text x="192.20" y="280.5" font-size="8.2" fill="#1a1a1a" stroke="#1a1a1a" stroke-width="0.22" transform="translate(192.20,0) scale(0.98,1) translate(-192.20,0)">10<tspan font-size="6.4" dy="-2.0">4</tspan></text>
<text x="215.40" y="280.5" font-size="8.2" fill="#1a1a1a" stroke="#1a1a1a" stroke-width="0.22" transform="translate(215.40,0) scale(0.98,1) translate(-215.40,0)">10<tspan font-size="6.4" dy="-2.0">5</tspan></text>
<path d="M251.26,268.78 L254.43,263.24 L256.81,250.56 L259.18,231.55 L261.56,212.53 L263.94,198.27 L265.84,193.20 L267.90,199.86 L270.27,215.70 L272.17,234.72 L274.23,248.98 L276.61,258.48 L278.99,265.61 L282.95,268.31 L287.70,268.78 L287.70,268.9 L251.26,268.9 Z" fill="#d9d9d9" stroke="none"/>
<path d="M259.18,268.78 L262.35,261.65 L265.52,256.90 L267.90,247.39 L270.27,237.88 L272.65,231.55 L275.03,226.79 L276.61,212.53 L278.51,209.36 L280.10,199.86 L281.36,203.03 L282.95,212.53 L284.53,210.16 L286.12,208.57 L287.70,212.53 L289.29,223.62 L291.66,237.88 L294.04,247.39 L297.21,255.31 L299.59,261.65 L301.96,266.41 L306.72,267.99 L313.05,268.78" fill="none" stroke="#262626" stroke-width="0.85" stroke-linejoin="round"/>
<path d="M238.60,268.90 L238.60,168.80 L339.60,168.80 L339.60,268.90" fill="none" stroke="#9c9c9c" stroke-width="1.3"/>
<line x1="239.25" y1="168.80" x2="338.95" y2="168.80" stroke="#bcbcbc" stroke-width="1.3"/>
<line x1="237.95" y1="268.90" x2="340.25" y2="268.90" stroke="#858585" stroke-width="1.2"/>
<line x1="244.50" y1="269.80" x2="277.60" y2="269.80" stroke="#666" stroke-width="0.8"/>
<line x1="244.50" y1="268.9" x2="244.50" y2="271.29999999999995" stroke="#333" stroke-width="0.9"/>
<line x1="261.20" y1="268.9" x2="261.20" y2="271.29999999999995" stroke="#333" stroke-width="0.9"/>
<line x1="277.60" y1="268.9" x2="277.60" y2="271.29999999999995" stroke="#333" stroke-width="0.9"/>
<line x1="305.10" y1="268.9" x2="305.10" y2="271.29999999999995" stroke="#333" stroke-width="0.9"/>
<line x1="329.40" y1="268.9" x2="329.40" y2="271.29999999999995" stroke="#333" stroke-width="0.9"/>
<line x1="285.58" y1="268.9" x2="285.58" y2="270.2" stroke="#555" stroke-width="0.7"/>
<line x1="290.24" y1="268.9" x2="290.24" y2="270.2" stroke="#555" stroke-width="0.7"/>
<line x1="293.55" y1="268.9" x2="293.55" y2="270.2" stroke="#555" stroke-width="0.7"/>
<line x1="296.12" y1="268.9" x2="296.12" y2="270.2" stroke="#555" stroke-width="0.7"/>
<line x1="298.22" y1="268.9" x2="298.22" y2="270.2" stroke="#555" stroke-width="0.7"/>
<line x1="300.00" y1="268.9" x2="300.00" y2="270.2" stroke="#555" stroke-width="0.7"/>
<line x1="301.53" y1="268.9" x2="301.53" y2="270.2" stroke="#555" stroke-width="0.7"/>
<line x1="302.89" y1="268.9" x2="302.89" y2="270.2" stroke="#555" stroke-width="0.7"/>
<line x1="313.08" y1="268.9" x2="313.08" y2="270.2" stroke="#555" stroke-width="0.7"/>
<line x1="317.74" y1="268.9" x2="317.74" y2="270.2" stroke="#555" stroke-width="0.7"/>
<line x1="321.05" y1="268.9" x2="321.05" y2="270.2" stroke="#555" stroke-width="0.7"/>
<line x1="323.62" y1="268.9" x2="323.62" y2="270.2" stroke="#555" stroke-width="0.7"/>
<line x1="325.72" y1="268.9" x2="325.72" y2="270.2" stroke="#555" stroke-width="0.7"/>
<line x1="327.50" y1="268.9" x2="327.50" y2="270.2" stroke="#555" stroke-width="0.7"/>
<line x1="329.03" y1="268.9" x2="329.03" y2="270.2" stroke="#555" stroke-width="0.7"/>
<line x1="330.39" y1="268.9" x2="330.39" y2="270.2" stroke="#555" stroke-width="0.7"/>
<line x1="336.62" y1="268.9" x2="336.62" y2="270.2" stroke="#555" stroke-width="0.7"/>
<line x1="246.59" y1="268.9" x2="246.59" y2="270.2" stroke="#555" stroke-width="0.7"/>
<line x1="263.25" y1="268.9" x2="263.25" y2="270.2" stroke="#555" stroke-width="0.7"/>
<line x1="248.67" y1="268.9" x2="248.67" y2="270.2" stroke="#555" stroke-width="0.7"/>
<line x1="265.30" y1="268.9" x2="265.30" y2="270.2" stroke="#555" stroke-width="0.7"/>
<line x1="250.76" y1="268.9" x2="250.76" y2="270.2" stroke="#555" stroke-width="0.7"/>
<line x1="267.35" y1="268.9" x2="267.35" y2="270.2" stroke="#555" stroke-width="0.7"/>
<line x1="252.85" y1="268.9" x2="252.85" y2="270.2" stroke="#555" stroke-width="0.7"/>
<line x1="269.40" y1="268.9" x2="269.40" y2="270.2" stroke="#555" stroke-width="0.7"/>
<line x1="254.94" y1="268.9" x2="254.94" y2="270.2" stroke="#555" stroke-width="0.7"/>
<line x1="271.45" y1="268.9" x2="271.45" y2="270.2" stroke="#555" stroke-width="0.7"/>
<line x1="257.02" y1="268.9" x2="257.02" y2="270.2" stroke="#555" stroke-width="0.7"/>
<line x1="273.50" y1="268.9" x2="273.50" y2="270.2" stroke="#555" stroke-width="0.7"/>
<line x1="259.11" y1="268.9" x2="259.11" y2="270.2" stroke="#555" stroke-width="0.7"/>
<line x1="275.55" y1="268.9" x2="275.55" y2="270.2" stroke="#555" stroke-width="0.7"/>
<rect x="259.20" y="268.50" width="4.2" height="2.5" fill="#111"/>
<text x="233.60" y="280.5" font-size="8.2" fill="#1a1a1a" stroke="#1a1a1a" stroke-width="0.22" transform="translate(233.60,0) scale(0.98,1) translate(-233.60,0)">-10<tspan font-size="6.4" dy="-2.0">3</tspan></text>
<text x="262.60" y="280.5" font-size="8.2" fill="#1a1a1a" stroke="#1a1a1a" stroke-width="0.22" transform="translate(262.60,0) scale(0.98,1) translate(-262.60,0)">0</text>
<text x="273.60" y="280.5" font-size="8.2" fill="#1a1a1a" stroke="#1a1a1a" stroke-width="0.22" transform="translate(273.60,0) scale(0.98,1) translate(-273.60,0)">10<tspan font-size="6.4" dy="-2.0">3</tspan></text>
<text x="301.40" y="280.5" font-size="8.2" fill="#1a1a1a" stroke="#1a1a1a" stroke-width="0.22" transform="translate(301.40,0) scale(0.98,1) translate(-301.40,0)">10<tspan font-size="6.4" dy="-2.0">4</tspan></text>
<text x="324.60" y="280.5" font-size="8.2" fill="#1a1a1a" stroke="#1a1a1a" stroke-width="0.22" transform="translate(324.60,0) scale(0.98,1) translate(-324.60,0)">10<tspan font-size="6.4" dy="-2.0">5</tspan></text>
<path d="M353.92,268.78 L360.26,266.41 L365.01,260.07 L368.97,248.98 L372.14,234.72 L374.52,220.46 L376.90,206.20 L379.27,195.10 L381.65,187.18 L384.03,182.43 L385.61,187.18 L387.51,188.77 L389.10,187.97 L390.36,199.86 L392.74,215.70 L395.12,231.55 L397.49,244.22 L400.66,252.14 L403.83,258.48 L407.00,264.82 L410.96,267.99 L415.72,268.78 L415.72,268.9 L353.92,268.9 Z" fill="#d9d9d9" stroke="none"/>
<path d="M385.61,268.78 L391.95,267.20 L396.70,263.24 L400.66,255.31 L403.83,244.22 L407.00,231.55 L409.38,220.46 L411.75,206.20 L413.34,193.52 L415.72,182.43 L418.09,178.47 L420.47,176.88 L422.05,188.77 L423.64,196.69 L425.22,215.70 L426.81,236.30 L428.39,253.73 L430.77,264.82 L433.94,268.31 L437.90,268.78" fill="none" stroke="#262626" stroke-width="0.85" stroke-linejoin="round"/>
<path d="M347.60,268.90 L347.60,168.80 L448.60,168.80 L448.60,268.90" fill="none" stroke="#9c9c9c" stroke-width="1.3"/>
<line x1="348.25" y1="168.80" x2="447.95" y2="168.80" stroke="#bcbcbc" stroke-width="1.3"/>
<line x1="346.95" y1="268.90" x2="449.25" y2="268.90" stroke="#858585" stroke-width="1.2"/>
<line x1="353.50" y1="269.80" x2="386.60" y2="269.80" stroke="#666" stroke-width="0.8"/>
<line x1="353.50" y1="268.9" x2="353.50" y2="271.29999999999995" stroke="#333" stroke-width="0.9"/>
<line x1="370.20" y1="268.9" x2="370.20" y2="271.29999999999995" stroke="#333" stroke-width="0.9"/>
<line x1="386.60" y1="268.9" x2="386.60" y2="271.29999999999995" stroke="#333" stroke-width="0.9"/>
<line x1="414.10" y1="268.9" x2="414.10" y2="271.29999999999995" stroke="#333" stroke-width="0.9"/>
<line x1="438.40" y1="268.9" x2="438.40" y2="271.29999999999995" stroke="#333" stroke-width="0.9"/>
<line x1="394.58" y1="268.9" x2="394.58" y2="270.2" stroke="#555" stroke-width="0.7"/>
<line x1="399.24" y1="268.9" x2="399.24" y2="270.2" stroke="#555" stroke-width="0.7"/>
<line x1="402.55" y1="268.9" x2="402.55" y2="270.2" stroke="#555" stroke-width="0.7"/>
<line x1="405.12" y1="268.9" x2="405.12" y2="270.2" stroke="#555" stroke-width="0.7"/>
<line x1="407.22" y1="268.9" x2="407.22" y2="270.2" stroke="#555" stroke-width="0.7"/>
<line x1="409.00" y1="268.9" x2="409.00" y2="270.2" stroke="#555" stroke-width="0.7"/>
<line x1="410.53" y1="268.9" x2="410.53" y2="270.2" stroke="#555" stroke-width="0.7"/>
<line x1="411.89" y1="268.9" x2="411.89" y2="270.2" stroke="#555" stroke-width="0.7"/>
<line x1="422.08" y1="268.9" x2="422.08" y2="270.2" stroke="#555" stroke-width="0.7"/>
<line x1="426.74" y1="268.9" x2="426.74" y2="270.2" stroke="#555" stroke-width="0.7"/>
<line x1="430.05" y1="268.9" x2="430.05" y2="270.2" stroke="#555" stroke-width="0.7"/>
<line x1="432.62" y1="268.9" x2="432.62" y2="270.2" stroke="#555" stroke-width="0.7"/>
<line x1="434.72" y1="268.9" x2="434.72" y2="270.2" stroke="#555" stroke-width="0.7"/>
<line x1="436.50" y1="268.9" x2="436.50" y2="270.2" stroke="#555" stroke-width="0.7"/>
<line x1="438.03" y1="268.9" x2="438.03" y2="270.2" stroke="#555" stroke-width="0.7"/>
<line x1="439.39" y1="268.9" x2="439.39" y2="270.2" stroke="#555" stroke-width="0.7"/>
<line x1="445.62" y1="268.9" x2="445.62" y2="270.2" stroke="#555" stroke-width="0.7"/>
<line x1="355.59" y1="268.9" x2="355.59" y2="270.2" stroke="#555" stroke-width="0.7"/>
<line x1="372.25" y1="268.9" x2="372.25" y2="270.2" stroke="#555" stroke-width="0.7"/>
<line x1="357.68" y1="268.9" x2="357.68" y2="270.2" stroke="#555" stroke-width="0.7"/>
<line x1="374.30" y1="268.9" x2="374.30" y2="270.2" stroke="#555" stroke-width="0.7"/>
<line x1="359.76" y1="268.9" x2="359.76" y2="270.2" stroke="#555" stroke-width="0.7"/>
<line x1="376.35" y1="268.9" x2="376.35" y2="270.2" stroke="#555" stroke-width="0.7"/>
<line x1="361.85" y1="268.9" x2="361.85" y2="270.2" stroke="#555" stroke-width="0.7"/>
<line x1="378.40" y1="268.9" x2="378.40" y2="270.2" stroke="#555" stroke-width="0.7"/>
<line x1="363.94" y1="268.9" x2="363.94" y2="270.2" stroke="#555" stroke-width="0.7"/>
<line x1="380.45" y1="268.9" x2="380.45" y2="270.2" stroke="#555" stroke-width="0.7"/>
<line x1="366.03" y1="268.9" x2="366.03" y2="270.2" stroke="#555" stroke-width="0.7"/>
<line x1="382.50" y1="268.9" x2="382.50" y2="270.2" stroke="#555" stroke-width="0.7"/>
<line x1="368.11" y1="268.9" x2="368.11" y2="270.2" stroke="#555" stroke-width="0.7"/>
<line x1="384.55" y1="268.9" x2="384.55" y2="270.2" stroke="#555" stroke-width="0.7"/>
<rect x="368.20" y="268.50" width="4.2" height="2.5" fill="#111"/>
<text x="342.60" y="280.5" font-size="8.2" fill="#1a1a1a" stroke="#1a1a1a" stroke-width="0.22" transform="translate(342.60,0) scale(0.98,1) translate(-342.60,0)">-10<tspan font-size="6.4" dy="-2.0">3</tspan></text>
<text x="371.60" y="280.5" font-size="8.2" fill="#1a1a1a" stroke="#1a1a1a" stroke-width="0.22" transform="translate(371.60,0) scale(0.98,1) translate(-371.60,0)">0</text>
<text x="382.60" y="280.5" font-size="8.2" fill="#1a1a1a" stroke="#1a1a1a" stroke-width="0.22" transform="translate(382.60,0) scale(0.98,1) translate(-382.60,0)">10<tspan font-size="6.4" dy="-2.0">3</tspan></text>
<text x="410.40" y="280.5" font-size="8.2" fill="#1a1a1a" stroke="#1a1a1a" stroke-width="0.22" transform="translate(410.40,0) scale(0.98,1) translate(-410.40,0)">10<tspan font-size="6.4" dy="-2.0">4</tspan></text>
<text x="433.60" y="280.5" font-size="8.2" fill="#1a1a1a" stroke="#1a1a1a" stroke-width="0.22" transform="translate(433.60,0) scale(0.98,1) translate(-433.60,0)">10<tspan font-size="6.4" dy="-2.0">5</tspan></text>
<path d="M474.01,268.78 L476.39,261.65 L477.97,244.22 L480.03,225.21 L481.94,206.20 L483.52,193.52 L484.79,188.45 L486.37,196.69 L488.27,212.53 L490.17,231.55 L492.23,248.98 L494.61,258.48 L497.78,263.24 L502.53,264.82 L507.29,264.82 L512.04,266.09 L518.38,267.20 L526.30,267.99 L534.22,268.78 L534.22,268.9 L474.01,268.9 Z" fill="#d9d9d9" stroke="none"/>
<path d="M478.77,268.78 L481.94,261.65 L485.10,252.14 L487.48,247.39 L489.86,248.18 L492.23,237.88 L494.61,229.96 L497.78,224.42 L500.16,229.96 L501.74,222.04 L503.33,209.36 L504.91,199.07 L506.49,199.86 L508.08,196.69 L509.66,200.65 L512.04,198.27 L514.42,196.69 L516.00,210.95 L517.59,212.53 L519.17,228.38 L519.96,237.88 L522.34,241.05 L524.72,250.56 L527.09,256.90 L529.47,261.65 L532.64,265.61 L535.81,267.99 L540.56,268.78" fill="none" stroke="#262626" stroke-width="0.85" stroke-linejoin="round"/>
<path d="M456.90,268.90 L456.90,168.80 L557.90,168.80 L557.90,268.90" fill="none" stroke="#9c9c9c" stroke-width="1.3"/>
<line x1="457.55" y1="168.80" x2="557.25" y2="168.80" stroke="#bcbcbc" stroke-width="1.3"/>
<line x1="456.25" y1="268.90" x2="558.55" y2="268.90" stroke="#858585" stroke-width="1.2"/>
<line x1="462.80" y1="269.80" x2="495.90" y2="269.80" stroke="#666" stroke-width="0.8"/>
<line x1="462.80" y1="268.9" x2="462.80" y2="271.29999999999995" stroke="#333" stroke-width="0.9"/>
<line x1="479.50" y1="268.9" x2="479.50" y2="271.29999999999995" stroke="#333" stroke-width="0.9"/>
<line x1="495.90" y1="268.9" x2="495.90" y2="271.29999999999995" stroke="#333" stroke-width="0.9"/>
<line x1="523.40" y1="268.9" x2="523.40" y2="271.29999999999995" stroke="#333" stroke-width="0.9"/>
<line x1="547.70" y1="268.9" x2="547.70" y2="271.29999999999995" stroke="#333" stroke-width="0.9"/>
<line x1="503.88" y1="268.9" x2="503.88" y2="270.2" stroke="#555" stroke-width="0.7"/>
<line x1="508.54" y1="268.9" x2="508.54" y2="270.2" stroke="#555" stroke-width="0.7"/>
<line x1="511.85" y1="268.9" x2="511.85" y2="270.2" stroke="#555" stroke-width="0.7"/>
<line x1="514.42" y1="268.9" x2="514.42" y2="270.2" stroke="#555" stroke-width="0.7"/>
<line x1="516.52" y1="268.9" x2="516.52" y2="270.2" stroke="#555" stroke-width="0.7"/>
<line x1="518.30" y1="268.9" x2="518.30" y2="270.2" stroke="#555" stroke-width="0.7"/>
<line x1="519.83" y1="268.9" x2="519.83" y2="270.2" stroke="#555" stroke-width="0.7"/>
<line x1="521.19" y1="268.9" x2="521.19" y2="270.2" stroke="#555" stroke-width="0.7"/>
<line x1="531.38" y1="268.9" x2="531.38" y2="270.2" stroke="#555" stroke-width="0.7"/>
<line x1="536.04" y1="268.9" x2="536.04" y2="270.2" stroke="#555" stroke-width="0.7"/>
<line x1="539.35" y1="268.9" x2="539.35" y2="270.2" stroke="#555" stroke-width="0.7"/>
<line x1="541.92" y1="268.9" x2="541.92" y2="270.2" stroke="#555" stroke-width="0.7"/>
<line x1="544.02" y1="268.9" x2="544.02" y2="270.2" stroke="#555" stroke-width="0.7"/>
<line x1="545.80" y1="268.9" x2="545.80" y2="270.2" stroke="#555" stroke-width="0.7"/>
<line x1="547.33" y1="268.9" x2="547.33" y2="270.2" stroke="#555" stroke-width="0.7"/>
<line x1="548.69" y1="268.9" x2="548.69" y2="270.2" stroke="#555" stroke-width="0.7"/>
<line x1="554.92" y1="268.9" x2="554.92" y2="270.2" stroke="#555" stroke-width="0.7"/>
<line x1="464.89" y1="268.9" x2="464.89" y2="270.2" stroke="#555" stroke-width="0.7"/>
<line x1="481.55" y1="268.9" x2="481.55" y2="270.2" stroke="#555" stroke-width="0.7"/>
<line x1="466.97" y1="268.9" x2="466.97" y2="270.2" stroke="#555" stroke-width="0.7"/>
<line x1="483.60" y1="268.9" x2="483.60" y2="270.2" stroke="#555" stroke-width="0.7"/>
<line x1="469.06" y1="268.9" x2="469.06" y2="270.2" stroke="#555" stroke-width="0.7"/>
<line x1="485.65" y1="268.9" x2="485.65" y2="270.2" stroke="#555" stroke-width="0.7"/>
<line x1="471.15" y1="268.9" x2="471.15" y2="270.2" stroke="#555" stroke-width="0.7"/>
<line x1="487.70" y1="268.9" x2="487.70" y2="270.2" stroke="#555" stroke-width="0.7"/>
<line x1="473.24" y1="268.9" x2="473.24" y2="270.2" stroke="#555" stroke-width="0.7"/>
<line x1="489.75" y1="268.9" x2="489.75" y2="270.2" stroke="#555" stroke-width="0.7"/>
<line x1="475.32" y1="268.9" x2="475.32" y2="270.2" stroke="#555" stroke-width="0.7"/>
<line x1="491.80" y1="268.9" x2="491.80" y2="270.2" stroke="#555" stroke-width="0.7"/>
<line x1="477.41" y1="268.9" x2="477.41" y2="270.2" stroke="#555" stroke-width="0.7"/>
<line x1="493.85" y1="268.9" x2="493.85" y2="270.2" stroke="#555" stroke-width="0.7"/>
<rect x="477.50" y="268.50" width="4.2" height="2.5" fill="#111"/>
<text x="451.90" y="280.5" font-size="8.2" fill="#1a1a1a" stroke="#1a1a1a" stroke-width="0.22" transform="translate(451.90,0) scale(0.98,1) translate(-451.90,0)">-10<tspan font-size="6.4" dy="-2.0">3</tspan></text>
<text x="480.90" y="280.5" font-size="8.2" fill="#1a1a1a" stroke="#1a1a1a" stroke-width="0.22" transform="translate(480.90,0) scale(0.98,1) translate(-480.90,0)">0</text>
<text x="491.90" y="280.5" font-size="8.2" fill="#1a1a1a" stroke="#1a1a1a" stroke-width="0.22" transform="translate(491.90,0) scale(0.98,1) translate(-491.90,0)">10<tspan font-size="6.4" dy="-2.0">3</tspan></text>
<text x="519.70" y="280.5" font-size="8.2" fill="#1a1a1a" stroke="#1a1a1a" stroke-width="0.22" transform="translate(519.70,0) scale(0.98,1) translate(-519.70,0)">10<tspan font-size="6.4" dy="-2.0">4</tspan></text>
<text x="542.90" y="280.5" font-size="8.2" fill="#1a1a1a" stroke="#1a1a1a" stroke-width="0.22" transform="translate(542.90,0) scale(0.98,1) translate(-542.90,0)">10<tspan font-size="6.4" dy="-2.0">5</tspan></text>
<path d="M583.62,268.59 L585.97,262.31 L588.33,246.61 L589.90,230.92 L591.47,220.72 L593.82,224.64 L596.17,229.35 L598.53,224.64 L601.67,218.36 L604.02,208.95 L606.38,196.39 L608.26,180.70 L610.30,188.54 L612.65,194.04 L614.22,201.10 L615.79,208.95 L617.36,218.36 L618.93,229.35 L620.50,241.91 L622.07,252.89 L624.43,262.31 L628.35,267.02 L633.06,268.59 L633.06,268.9 L583.62,268.9 Z" fill="#d9d9d9" stroke="none"/>
<path d="M585.19,268.59 L587.54,262.31 L589.90,249.75 L592.25,240.34 L593.82,232.49 L595.39,230.92 L597.74,237.20 L600.10,232.49 L602.45,230.92 L604.02,224.64 L605.59,215.22 L607.95,208.95 L610.30,202.67 L611.87,197.96 L613.44,193.25 L614.54,202.67 L615.79,204.24 L617.36,216.79 L618.93,227.78 L620.50,241.91 L622.07,254.46 L624.43,262.31 L627.57,267.02 L631.49,268.59" fill="none" stroke="#262626" stroke-width="0.85" stroke-linejoin="round"/>
<path d="M566.20,268.90 L566.20,168.80 L667.20,168.80 L667.20,268.90" fill="none" stroke="#9c9c9c" stroke-width="1.3"/>
<line x1="566.85" y1="168.80" x2="666.55" y2="168.80" stroke="#bcbcbc" stroke-width="1.3"/>
<line x1="565.55" y1="268.90" x2="667.85" y2="268.90" stroke="#858585" stroke-width="1.2"/>
<line x1="572.10" y1="269.80" x2="605.20" y2="269.80" stroke="#666" stroke-width="0.8"/>
<line x1="572.10" y1="268.9" x2="572.10" y2="271.29999999999995" stroke="#333" stroke-width="0.9"/>
<line x1="588.80" y1="268.9" x2="588.80" y2="271.29999999999995" stroke="#333" stroke-width="0.9"/>
<line x1="605.20" y1="268.9" x2="605.20" y2="271.29999999999995" stroke="#333" stroke-width="0.9"/>
<line x1="632.70" y1="268.9" x2="632.70" y2="271.29999999999995" stroke="#333" stroke-width="0.9"/>
<line x1="657.00" y1="268.9" x2="657.00" y2="271.29999999999995" stroke="#333" stroke-width="0.9"/>
<line x1="613.18" y1="268.9" x2="613.18" y2="270.2" stroke="#555" stroke-width="0.7"/>
<line x1="617.84" y1="268.9" x2="617.84" y2="270.2" stroke="#555" stroke-width="0.7"/>
<line x1="621.15" y1="268.9" x2="621.15" y2="270.2" stroke="#555" stroke-width="0.7"/>
<line x1="623.72" y1="268.9" x2="623.72" y2="270.2" stroke="#555" stroke-width="0.7"/>
<line x1="625.82" y1="268.9" x2="625.82" y2="270.2" stroke="#555" stroke-width="0.7"/>
<line x1="627.60" y1="268.9" x2="627.60" y2="270.2" stroke="#555" stroke-width="0.7"/>
<line x1="629.13" y1="268.9" x2="629.13" y2="270.2" stroke="#555" stroke-width="0.7"/>
<line x1="630.49" y1="268.9" x2="630.49" y2="270.2" stroke="#555" stroke-width="0.7"/>
<line x1="640.68" y1="268.9" x2="640.68" y2="270.2" stroke="#555" stroke-width="0.7"/>
<line x1="645.34" y1="268.9" x2="645.34" y2="270.2" stroke="#555" stroke-width="0.7"/>
<line x1="648.65" y1="268.9" x2="648.65" y2="270.2" stroke="#555" stroke-width="0.7"/>
<line x1="651.22" y1="268.9" x2="651.22" y2="270.2" stroke="#555" stroke-width="0.7"/>
<line x1="653.32" y1="268.9" x2="653.32" y2="270.2" stroke="#555" stroke-width="0.7"/>
<line x1="655.10" y1="268.9" x2="655.10" y2="270.2" stroke="#555" stroke-width="0.7"/>
<line x1="656.63" y1="268.9" x2="656.63" y2="270.2" stroke="#555" stroke-width="0.7"/>
<line x1="657.99" y1="268.9" x2="657.99" y2="270.2" stroke="#555" stroke-width="0.7"/>
<line x1="664.22" y1="268.9" x2="664.22" y2="270.2" stroke="#555" stroke-width="0.7"/>
<line x1="574.19" y1="268.9" x2="574.19" y2="270.2" stroke="#555" stroke-width="0.7"/>
<line x1="590.85" y1="268.9" x2="590.85" y2="270.2" stroke="#555" stroke-width="0.7"/>
<line x1="576.28" y1="268.9" x2="576.28" y2="270.2" stroke="#555" stroke-width="0.7"/>
<line x1="592.90" y1="268.9" x2="592.90" y2="270.2" stroke="#555" stroke-width="0.7"/>
<line x1="578.36" y1="268.9" x2="578.36" y2="270.2" stroke="#555" stroke-width="0.7"/>
<line x1="594.95" y1="268.9" x2="594.95" y2="270.2" stroke="#555" stroke-width="0.7"/>
<line x1="580.45" y1="268.9" x2="580.45" y2="270.2" stroke="#555" stroke-width="0.7"/>
<line x1="597.00" y1="268.9" x2="597.00" y2="270.2" stroke="#555" stroke-width="0.7"/>
<line x1="582.54" y1="268.9" x2="582.54" y2="270.2" stroke="#555" stroke-width="0.7"/>
<line x1="599.05" y1="268.9" x2="599.05" y2="270.2" stroke="#555" stroke-width="0.7"/>
<line x1="584.62" y1="268.9" x2="584.62" y2="270.2" stroke="#555" stroke-width="0.7"/>
<line x1="601.10" y1="268.9" x2="601.10" y2="270.2" stroke="#555" stroke-width="0.7"/>
<line x1="586.71" y1="268.9" x2="586.71" y2="270.2" stroke="#555" stroke-width="0.7"/>
<line x1="603.15" y1="268.9" x2="603.15" y2="270.2" stroke="#555" stroke-width="0.7"/>
<rect x="586.80" y="268.50" width="4.2" height="2.5" fill="#111"/>
<text x="561.20" y="280.5" font-size="8.2" fill="#1a1a1a" stroke="#1a1a1a" stroke-width="0.22" transform="translate(561.20,0) scale(0.98,1) translate(-561.20,0)">-10<tspan font-size="6.4" dy="-2.0">3</tspan></text>
<text x="590.20" y="280.5" font-size="8.2" fill="#1a1a1a" stroke="#1a1a1a" stroke-width="0.22" transform="translate(590.20,0) scale(0.98,1) translate(-590.20,0)">0</text>
<text x="601.20" y="280.5" font-size="8.2" fill="#1a1a1a" stroke="#1a1a1a" stroke-width="0.22" transform="translate(601.20,0) scale(0.98,1) translate(-601.20,0)">10<tspan font-size="6.4" dy="-2.0">3</tspan></text>
<text x="629.00" y="280.5" font-size="8.2" fill="#1a1a1a" stroke="#1a1a1a" stroke-width="0.22" transform="translate(629.00,0) scale(0.98,1) translate(-629.00,0)">10<tspan font-size="6.4" dy="-2.0">4</tspan></text>
<text x="652.20" y="280.5" font-size="8.2" fill="#1a1a1a" stroke="#1a1a1a" stroke-width="0.22" transform="translate(652.20,0) scale(0.98,1) translate(-652.20,0)">10<tspan font-size="6.4" dy="-2.0">5</tspan></text>
<rect x="510.8" y="293.0" width="17.7" height="8.6" fill="#d9d9d9" stroke="#c4c4c4" stroke-width="0.8" stroke-dasharray="1,1"/>
<rect x="510.8" y="307.3" width="17.7" height="8.2" fill="#fff" stroke="#222" stroke-width="1.2"/>
<text x="535.20" y="300.90" font-size="12.45" text-anchor="start" font-weight="normal" fill="#1a1a1a" stroke="#1a1a1a" stroke-width="0.18" >Control-Alexa647</text>
<text x="535.20" y="315.60" font-size="12.45" text-anchor="start" font-weight="normal" fill="#1a1a1a" stroke="#1a1a1a" stroke-width="0.18" >Anti-VISTA-Alexa647</text>
<text x="8.00" y="358.10" font-size="24.3" text-anchor="start" font-weight="bold" fill="#000" stroke="#000" stroke-width="0" transform="translate(8,0) scale(1.05,1) translate(-8,0)">b</text>
<text x="146.45" y="361.80" font-size="12.45" text-anchor="middle" font-weight="normal" fill="#1a1a1a" stroke="#1a1a1a" stroke-width="0.18" >T cells</text>
<line x1="65" y1="384.4" x2="65" y2="502.6" stroke="#111" stroke-width="1.3"/>
<line x1="64.4" y1="502.6" x2="242.6" y2="502.6" stroke="#111" stroke-width="1.3"/>
<line x1="61" y1="384.9" x2="65" y2="384.9" stroke="#111" stroke-width="1.2"/>
<text x="59.20" y="389.60" font-size="12.1" text-anchor="end" font-weight="normal" fill="#1a1a1a" stroke="#1a1a1a" stroke-width="0.18" >150</text>
<line x1="61" y1="424.2" x2="65" y2="424.2" stroke="#111" stroke-width="1.2"/>
<text x="59.20" y="428.90" font-size="12.1" text-anchor="end" font-weight="normal" fill="#1a1a1a" stroke="#1a1a1a" stroke-width="0.18" >100</text>
<line x1="61" y1="463.5" x2="65" y2="463.5" stroke="#111" stroke-width="1.2"/>
<text x="59.20" y="468.20" font-size="12.1" text-anchor="end" font-weight="normal" fill="#1a1a1a" stroke="#1a1a1a" stroke-width="0.18" >50</text>
<line x1="61" y1="502.6" x2="65" y2="502.6" stroke="#111" stroke-width="1.2"/>
<text x="59.20" y="507.30" font-size="12.1" text-anchor="end" font-weight="normal" fill="#1a1a1a" stroke="#1a1a1a" stroke-width="0.18" >0</text>
<line x1="92.7" y1="502.6" x2="92.7" y2="506.6" stroke="#111" stroke-width="1.1"/>
<line x1="153.2" y1="502.6" x2="153.2" y2="506.6" stroke="#111" stroke-width="1.1"/>
<line x1="213.4" y1="502.6" x2="213.4" y2="506.6" stroke="#111" stroke-width="1.1"/>
<line x1="73.40" y1="424.80" x2="73.40" y2="412.60" stroke="#000" stroke-width="1.12"/>
<line x1="70.80" y1="412.60" x2="76.00" y2="412.60" stroke="#000" stroke-width="1.26"/>
<rect x="69.90" y="424.80" width="7.10" height="77.80" fill="#ffffff" stroke="none"/>
<path d="M69.90,502.60 L69.90,424.80 L77.00,424.80 L77.00,502.60" fill="none" stroke="#000" stroke-width="1.4" stroke-linejoin="miter"/>
<line x1="86.60" y1="424.00" x2="86.60" y2="420.30" stroke="#000" stroke-width="1.12"/>
<line x1="84.00" y1="420.30" x2="89.20" y2="420.30" stroke="#000" stroke-width="1.26"/>
<rect x="83.10" y="424.00" width="7.10" height="78.60" fill="#d3d3d3" stroke="none"/>
<path d="M83.10,502.60 L83.10,424.00 L90.20,424.00 L90.20,502.60" fill="none" stroke="#000" stroke-width="1.4" stroke-linejoin="miter"/>
<line x1="99.40" y1="455.80" x2="99.40" y2="450.10" stroke="#000" stroke-width="1.12"/>
<line x1="96.80" y1="450.10" x2="102.00" y2="450.10" stroke="#000" stroke-width="1.26"/>
<rect x="95.90" y="455.80" width="7.10" height="46.80" fill="#808080" stroke="none"/>
<path d="M95.90,502.60 L95.90,455.80 L103.00,455.80 L103.00,502.60" fill="none" stroke="#000" stroke-width="1.4" stroke-linejoin="miter"/>
<line x1="112.20" y1="483.70" x2="112.20" y2="480.90" stroke="#000" stroke-width="1.12"/>
<line x1="109.60" y1="480.90" x2="114.80" y2="480.90" stroke="#000" stroke-width="1.26"/>
<rect x="108.70" y="483.70" width="7.10" height="18.90" fill="#000000" stroke="none"/>
<path d="M108.70,502.60 L108.70,483.70 L115.80,483.70 L115.80,502.60" fill="none" stroke="#000" stroke-width="1.4" stroke-linejoin="miter"/>
<line x1="73.60" y1="377.70" x2="111.80" y2="377.70" stroke="#000" stroke-width="1.8"/>
<path d="M85.03,373.04 L85.57,374.34 L86.97,374.46 L85.90,375.38 L86.23,376.75 L85.03,376.01 L83.82,376.75 L84.15,375.38 L83.08,374.46 L84.48,374.34ZM89.98,373.04 L90.52,374.34 L91.92,374.46 L90.85,375.38 L91.18,376.75 L89.98,376.01 L88.77,376.75 L89.10,375.38 L88.03,374.46 L89.43,374.34ZM94.92,373.04 L95.47,374.34 L96.87,374.46 L95.80,375.38 L96.13,376.75 L94.92,376.01 L93.72,376.75 L94.05,375.38 L92.98,374.46 L94.38,374.34ZM99.88,373.04 L100.42,374.34 L101.82,374.46 L100.75,375.38 L101.08,376.75 L99.88,376.01 L98.67,376.75 L99.00,375.38 L97.93,374.46 L99.33,374.34Z" fill="#1a1a1a" stroke="#1a1a1a" stroke-width="0.35" stroke-linejoin="round"/>
<line x1="89.30" y1="384.60" x2="111.80" y2="384.60" stroke="#000" stroke-width="1.8"/>
<path d="M93.62,379.94 L94.17,381.24 L95.57,381.36 L94.50,382.28 L94.83,383.65 L93.62,382.91 L92.42,383.65 L92.75,382.28 L91.68,381.36 L93.08,381.24ZM98.58,379.94 L99.12,381.24 L100.52,381.36 L99.45,382.28 L99.78,383.65 L98.58,382.91 L97.37,383.65 L97.70,382.28 L96.63,381.36 L98.03,381.24ZM103.52,379.94 L104.07,381.24 L105.47,381.36 L104.40,382.28 L104.73,383.65 L103.52,382.91 L102.32,383.65 L102.65,382.28 L101.58,381.36 L102.98,381.24ZM108.47,379.94 L109.02,381.24 L110.42,381.36 L109.35,382.28 L109.68,383.65 L108.47,382.91 L107.27,383.65 L107.60,382.28 L106.53,381.36 L107.93,381.24Z" fill="#1a1a1a" stroke="#1a1a1a" stroke-width="0.35" stroke-linejoin="round"/>
<line x1="99.20" y1="391.20" x2="111.80" y2="391.20" stroke="#000" stroke-width="1.8"/>
<path d="M97.58,386.24 L98.12,387.54 L99.52,387.66 L98.45,388.58 L98.78,389.95 L97.58,389.21 L96.37,389.95 L96.70,388.58 L95.63,387.66 L97.03,387.54ZM102.53,386.24 L103.07,387.54 L104.47,387.66 L103.40,388.58 L103.73,389.95 L102.53,389.21 L101.32,389.95 L101.65,388.58 L100.58,387.66 L101.98,387.54ZM107.47,386.24 L108.02,387.54 L109.42,387.66 L108.35,388.58 L108.68,389.95 L107.47,389.21 L106.27,389.95 L106.60,388.58 L105.53,387.66 L106.93,387.54ZM112.42,386.24 L112.97,387.54 L114.37,387.66 L113.30,388.58 L113.63,389.95 L112.42,389.21 L111.22,389.95 L111.55,388.58 L110.48,387.66 L111.88,387.54Z" fill="#1a1a1a" stroke="#1a1a1a" stroke-width="0.35" stroke-linejoin="round"/>
<line x1="73.60" y1="398.00" x2="99.60" y2="398.00" stroke="#000" stroke-width="1.8"/>
<path d="M77.17,392.74 L77.72,394.04 L79.12,394.16 L78.05,395.08 L78.38,396.45 L77.17,395.71 L75.97,396.45 L76.30,395.08 L75.23,394.16 L76.63,394.04ZM82.12,392.74 L82.67,394.04 L84.07,394.16 L83.00,395.08 L83.33,396.45 L82.12,395.71 L80.92,396.45 L81.25,395.08 L80.18,394.16 L81.58,394.04ZM87.07,392.74 L87.62,394.04 L89.02,394.16 L87.95,395.08 L88.28,396.45 L87.07,395.71 L85.87,396.45 L86.20,395.08 L85.13,394.16 L86.53,394.04ZM92.02,392.74 L92.57,394.04 L93.97,394.16 L92.90,395.08 L93.23,396.45 L92.02,395.71 L90.82,396.45 L91.15,395.08 L90.08,394.16 L91.48,394.04Z" fill="#1a1a1a" stroke="#1a1a1a" stroke-width="0.35" stroke-linejoin="round"/>
<line x1="86.70" y1="404.80" x2="99.60" y2="404.80" stroke="#000" stroke-width="1.8"/>
<path d="M86.58,400.04 L87.12,401.34 L88.52,401.46 L87.45,402.38 L87.78,403.75 L86.58,403.01 L85.37,403.75 L85.70,402.38 L84.63,401.46 L86.03,401.34ZM91.53,400.04 L92.07,401.34 L93.47,401.46 L92.40,402.38 L92.73,403.75 L91.53,403.01 L90.32,403.75 L90.65,402.38 L89.58,401.46 L90.98,401.34ZM96.47,400.04 L97.02,401.34 L98.42,401.46 L97.35,402.38 L97.68,403.75 L96.47,403.01 L95.27,403.75 L95.60,402.38 L94.53,401.46 L95.93,401.34ZM101.42,400.04 L101.97,401.34 L103.37,401.46 L102.30,402.38 L102.63,403.75 L101.42,403.01 L100.22,403.75 L100.55,402.38 L99.48,401.46 L100.88,401.34Z" fill="#1a1a1a" stroke="#1a1a1a" stroke-width="0.35" stroke-linejoin="round"/>
<line x1="133.90" y1="425.50" x2="133.90" y2="414.60" stroke="#000" stroke-width="1.12"/>
<line x1="131.30" y1="414.60" x2="136.50" y2="414.60" stroke="#000" stroke-width="1.26"/>
<rect x="130.40" y="425.50" width="7.10" height="77.10" fill="#ffffff" stroke="none"/>
<path d="M130.40,502.60 L130.40,425.50 L137.50,425.50 L137.50,502.60" fill="none" stroke="#000" stroke-width="1.4" stroke-linejoin="miter"/>
<line x1="147.10" y1="418.50" x2="147.10" y2="415.20" stroke="#000" stroke-width="1.12"/>
<line x1="144.50" y1="415.20" x2="149.70" y2="415.20" stroke="#000" stroke-width="1.26"/>
<rect x="143.60" y="418.50" width="7.10" height="84.10" fill="#d3d3d3" stroke="none"/>
<path d="M143.60,502.60 L143.60,418.50 L150.70,418.50 L150.70,502.60" fill="none" stroke="#000" stroke-width="1.4" stroke-linejoin="miter"/>
<line x1="159.90" y1="462.80" x2="159.90" y2="456.00" stroke="#000" stroke-width="1.12"/>
<line x1="157.30" y1="456.00" x2="162.50" y2="456.00" stroke="#000" stroke-width="1.26"/>
<rect x="156.40" y="462.80" width="7.10" height="39.80" fill="#808080" stroke="none"/>
<path d="M156.40,502.60 L156.40,462.80 L163.50,462.80 L163.50,502.60" fill="none" stroke="#000" stroke-width="1.4" stroke-linejoin="miter"/>
<line x1="172.70" y1="489.00" x2="172.70" y2="486.10" stroke="#000" stroke-width="1.12"/>
<line x1="170.10" y1="486.10" x2="175.30" y2="486.10" stroke="#000" stroke-width="1.26"/>
<rect x="169.20" y="489.00" width="7.10" height="13.60" fill="#000000" stroke="none"/>
<path d="M169.20,502.60 L169.20,489.00 L176.30,489.00 L176.30,502.60" fill="none" stroke="#000" stroke-width="1.4" stroke-linejoin="miter"/>
<line x1="133.10" y1="377.70" x2="171.30" y2="377.70" stroke="#000" stroke-width="1.8"/>
<path d="M144.52,373.04 L145.07,374.34 L146.47,374.46 L145.40,375.38 L145.73,376.75 L144.52,376.01 L143.32,376.75 L143.65,375.38 L142.58,374.46 L143.98,374.34ZM149.47,373.04 L150.02,374.34 L151.42,374.46 L150.35,375.38 L150.68,376.75 L149.47,376.01 L148.27,376.75 L148.60,375.38 L147.53,374.46 L148.93,374.34ZM154.42,373.04 L154.97,374.34 L156.37,374.46 L155.30,375.38 L155.63,376.75 L154.42,376.01 L153.22,376.75 L153.55,375.38 L152.48,374.46 L153.88,374.34ZM159.38,373.04 L159.92,374.34 L161.32,374.46 L160.25,375.38 L160.58,376.75 L159.38,376.01 L158.17,376.75 L158.50,375.38 L157.43,374.46 L158.83,374.34Z" fill="#1a1a1a" stroke="#1a1a1a" stroke-width="0.35" stroke-linejoin="round"/>
<line x1="148.80" y1="384.60" x2="171.30" y2="384.60" stroke="#000" stroke-width="1.8"/>
<path d="M153.12,379.94 L153.67,381.24 L155.07,381.36 L154.00,382.28 L154.33,383.65 L153.12,382.91 L151.92,383.65 L152.25,382.28 L151.18,381.36 L152.58,381.24ZM158.08,379.94 L158.62,381.24 L160.02,381.36 L158.95,382.28 L159.28,383.65 L158.08,382.91 L156.87,383.65 L157.20,382.28 L156.13,381.36 L157.53,381.24ZM163.03,379.94 L163.57,381.24 L164.97,381.36 L163.90,382.28 L164.23,383.65 L163.03,382.91 L161.82,383.65 L162.15,382.28 L161.08,381.36 L162.48,381.24ZM167.98,379.94 L168.52,381.24 L169.92,381.36 L168.85,382.28 L169.18,383.65 L167.98,382.91 L166.77,383.65 L167.10,382.28 L166.03,381.36 L167.43,381.24Z" fill="#1a1a1a" stroke="#1a1a1a" stroke-width="0.35" stroke-linejoin="round"/>
<line x1="158.70" y1="391.20" x2="171.30" y2="391.20" stroke="#000" stroke-width="1.8"/>
<path d="M157.07,386.24 L157.62,387.54 L159.02,387.66 L157.95,388.58 L158.28,389.95 L157.07,389.21 L155.87,389.95 L156.20,388.58 L155.13,387.66 L156.53,387.54ZM162.03,386.24 L162.57,387.54 L163.97,387.66 L162.90,388.58 L163.23,389.95 L162.03,389.21 L160.82,389.95 L161.15,388.58 L160.08,387.66 L161.48,387.54ZM166.97,386.24 L167.52,387.54 L168.92,387.66 L167.85,388.58 L168.18,389.95 L166.97,389.21 L165.77,389.95 L166.10,388.58 L165.03,387.66 L166.43,387.54ZM171.93,386.24 L172.47,387.54 L173.87,387.66 L172.80,388.58 L173.13,389.95 L171.93,389.21 L170.72,389.95 L171.05,388.58 L169.98,387.66 L171.38,387.54Z" fill="#1a1a1a" stroke="#1a1a1a" stroke-width="0.35" stroke-linejoin="round"/>
<line x1="133.10" y1="398.00" x2="159.10" y2="398.00" stroke="#000" stroke-width="1.8"/>
<path d="M136.67,392.74 L137.22,394.04 L138.62,394.16 L137.55,395.08 L137.88,396.45 L136.67,395.71 L135.47,396.45 L135.80,395.08 L134.73,394.16 L136.13,394.04ZM141.62,392.74 L142.17,394.04 L143.57,394.16 L142.50,395.08 L142.83,396.45 L141.62,395.71 L140.42,396.45 L140.75,395.08 L139.68,394.16 L141.08,394.04ZM146.57,392.74 L147.12,394.04 L148.52,394.16 L147.45,395.08 L147.78,396.45 L146.57,395.71 L145.37,396.45 L145.70,395.08 L144.63,394.16 L146.03,394.04ZM151.53,392.74 L152.07,394.04 L153.47,394.16 L152.40,395.08 L152.73,396.45 L151.53,395.71 L150.32,396.45 L150.65,395.08 L149.58,394.16 L150.98,394.04Z" fill="#1a1a1a" stroke="#1a1a1a" stroke-width="0.35" stroke-linejoin="round"/>
<line x1="146.20" y1="404.80" x2="159.10" y2="404.80" stroke="#000" stroke-width="1.8"/>
<path d="M146.07,400.04 L146.62,401.34 L148.02,401.46 L146.95,402.38 L147.28,403.75 L146.07,403.01 L144.87,403.75 L145.20,402.38 L144.13,401.46 L145.53,401.34ZM151.03,400.04 L151.57,401.34 L152.97,401.46 L151.90,402.38 L152.23,403.75 L151.03,403.01 L149.82,403.75 L150.15,402.38 L149.08,401.46 L150.48,401.34ZM155.97,400.04 L156.52,401.34 L157.92,401.46 L156.85,402.38 L157.18,403.75 L155.97,403.01 L154.77,403.75 L155.10,402.38 L154.03,401.46 L155.43,401.34ZM160.93,400.04 L161.47,401.34 L162.87,401.46 L161.80,402.38 L162.13,403.75 L160.93,403.01 L159.72,403.75 L160.05,402.38 L158.98,401.46 L160.38,401.34Z" fill="#1a1a1a" stroke="#1a1a1a" stroke-width="0.35" stroke-linejoin="round"/>
<line x1="194.10" y1="425.50" x2="194.10" y2="411.30" stroke="#000" stroke-width="1.12"/>
<line x1="191.50" y1="411.30" x2="196.70" y2="411.30" stroke="#000" stroke-width="1.26"/>
<rect x="190.60" y="425.50" width="7.10" height="77.10" fill="#ffffff" stroke="none"/>
<path d="M190.60,502.60 L190.60,425.50 L197.70,425.50 L197.70,502.60" fill="none" stroke="#000" stroke-width="1.4" stroke-linejoin="miter"/>
<line x1="207.30" y1="423.30" x2="207.30" y2="417.70" stroke="#000" stroke-width="1.12"/>
<line x1="204.70" y1="417.70" x2="209.90" y2="417.70" stroke="#000" stroke-width="1.26"/>
<rect x="203.80" y="423.30" width="7.10" height="79.30" fill="#d3d3d3" stroke="none"/>
<path d="M203.80,502.60 L203.80,423.30 L210.90,423.30 L210.90,502.60" fill="none" stroke="#000" stroke-width="1.4" stroke-linejoin="miter"/>
<line x1="220.10" y1="453.10" x2="220.10" y2="448.80" stroke="#000" stroke-width="1.12"/>
<line x1="217.50" y1="448.80" x2="222.70" y2="448.80" stroke="#000" stroke-width="1.26"/>
<rect x="216.60" y="453.10" width="7.10" height="49.50" fill="#808080" stroke="none"/>
<path d="M216.60,502.60 L216.60,453.10 L223.70,453.10 L223.70,502.60" fill="none" stroke="#000" stroke-width="1.4" stroke-linejoin="miter"/>
<line x1="232.90" y1="477.00" x2="232.90" y2="473.10" stroke="#000" stroke-width="1.12"/>
<line x1="230.30" y1="473.10" x2="235.50" y2="473.10" stroke="#000" stroke-width="1.26"/>
<rect x="229.40" y="477.00" width="7.10" height="25.60" fill="#000000" stroke="none"/>
<path d="M229.40,502.60 L229.40,477.00 L236.50,477.00 L236.50,502.60" fill="none" stroke="#000" stroke-width="1.4" stroke-linejoin="miter"/>
<line x1="193.20" y1="377.70" x2="231.40" y2="377.70" stroke="#000" stroke-width="1.8"/>
<path d="M204.62,373.04 L205.17,374.34 L206.57,374.46 L205.50,375.38 L205.83,376.75 L204.62,376.01 L203.42,376.75 L203.75,375.38 L202.68,374.46 L204.08,374.34ZM209.58,373.04 L210.12,374.34 L211.52,374.46 L210.45,375.38 L210.78,376.75 L209.58,376.01 L208.37,376.75 L208.70,375.38 L207.63,374.46 L209.03,374.34ZM214.53,373.04 L215.07,374.34 L216.47,374.46 L215.40,375.38 L215.73,376.75 L214.53,376.01 L213.32,376.75 L213.65,375.38 L212.58,374.46 L213.98,374.34ZM219.48,373.04 L220.02,374.34 L221.42,374.46 L220.35,375.38 L220.68,376.75 L219.48,376.01 L218.27,376.75 L218.60,375.38 L217.53,374.46 L218.93,374.34Z" fill="#1a1a1a" stroke="#1a1a1a" stroke-width="0.35" stroke-linejoin="round"/>
<line x1="208.90" y1="384.60" x2="231.40" y2="384.60" stroke="#000" stroke-width="1.8"/>
<path d="M213.22,379.94 L213.77,381.24 L215.17,381.36 L214.10,382.28 L214.43,383.65 L213.22,382.91 L212.02,383.65 L212.35,382.28 L211.28,381.36 L212.68,381.24ZM218.17,379.94 L218.72,381.24 L220.12,381.36 L219.05,382.28 L219.38,383.65 L218.17,382.91 L216.97,383.65 L217.30,382.28 L216.23,381.36 L217.63,381.24ZM223.12,379.94 L223.67,381.24 L225.07,381.36 L224.00,382.28 L224.33,383.65 L223.12,382.91 L221.92,383.65 L222.25,382.28 L221.18,381.36 L222.58,381.24ZM228.07,379.94 L228.62,381.24 L230.02,381.36 L228.95,382.28 L229.28,383.65 L228.07,382.91 L226.87,383.65 L227.20,382.28 L226.13,381.36 L227.53,381.24Z" fill="#1a1a1a" stroke="#1a1a1a" stroke-width="0.35" stroke-linejoin="round"/>
<line x1="218.80" y1="391.20" x2="231.40" y2="391.20" stroke="#000" stroke-width="1.8"/>
<path d="M217.17,386.24 L217.72,387.54 L219.12,387.66 L218.05,388.58 L218.38,389.95 L217.17,389.21 L215.97,389.95 L216.30,388.58 L215.23,387.66 L216.63,387.54ZM222.12,386.24 L222.67,387.54 L224.07,387.66 L223.00,388.58 L223.33,389.95 L222.12,389.21 L220.92,389.95 L221.25,388.58 L220.18,387.66 L221.58,387.54ZM227.07,386.24 L227.62,387.54 L229.02,387.66 L227.95,388.58 L228.28,389.95 L227.07,389.21 L225.87,389.95 L226.20,388.58 L225.13,387.66 L226.53,387.54ZM232.03,386.24 L232.57,387.54 L233.97,387.66 L232.90,388.58 L233.23,389.95 L232.03,389.21 L230.82,389.95 L231.15,388.58 L230.08,387.66 L231.48,387.54Z" fill="#1a1a1a" stroke="#1a1a1a" stroke-width="0.35" stroke-linejoin="round"/>
<line x1="193.20" y1="398.00" x2="219.20" y2="398.00" stroke="#000" stroke-width="1.8"/>
<path d="M196.77,392.74 L197.32,394.04 L198.72,394.16 L197.65,395.08 L197.98,396.45 L196.77,395.71 L195.57,396.45 L195.90,395.08 L194.83,394.16 L196.23,394.04ZM201.72,392.74 L202.27,394.04 L203.67,394.16 L202.60,395.08 L202.93,396.45 L201.72,395.71 L200.52,396.45 L200.85,395.08 L199.78,394.16 L201.18,394.04ZM206.67,392.74 L207.22,394.04 L208.62,394.16 L207.55,395.08 L207.88,396.45 L206.67,395.71 L205.47,396.45 L205.80,395.08 L204.73,394.16 L206.13,394.04ZM211.62,392.74 L212.17,394.04 L213.57,394.16 L212.50,395.08 L212.83,396.45 L211.62,395.71 L210.42,396.45 L210.75,395.08 L209.68,394.16 L211.08,394.04Z" fill="#1a1a1a" stroke="#1a1a1a" stroke-width="0.35" stroke-linejoin="round"/>
<line x1="206.30" y1="404.80" x2="219.20" y2="404.80" stroke="#000" stroke-width="1.8"/>
<path d="M206.17,400.04 L206.72,401.34 L208.12,401.46 L207.05,402.38 L207.38,403.75 L206.17,403.01 L204.97,403.75 L205.30,402.38 L204.23,401.46 L205.63,401.34ZM211.12,400.04 L211.67,401.34 L213.07,401.46 L212.00,402.38 L212.33,403.75 L211.12,403.01 L209.92,403.75 L210.25,402.38 L209.18,401.46 L210.58,401.34ZM216.07,400.04 L216.62,401.34 L218.02,401.46 L216.95,402.38 L217.28,403.75 L216.07,403.01 L214.87,403.75 L215.20,402.38 L214.13,401.46 L215.53,401.34ZM221.03,400.04 L221.57,401.34 L222.97,401.46 L221.90,402.38 L222.23,403.75 L221.03,403.01 L219.82,403.75 L220.15,402.38 L219.08,401.46 L220.48,401.34Z" fill="#1a1a1a" stroke="#1a1a1a" stroke-width="0.35" stroke-linejoin="round"/>
<line x1="64.4" y1="502.6" x2="242.6" y2="502.6" stroke="#111" stroke-width="1.1"/>
<text x="92.45" y="520.60" font-size="12.45" text-anchor="middle" font-weight="normal" fill="#1a1a1a" stroke="#1a1a1a" stroke-width="0.18" >Treg</text>
<text x="151.70" y="520.60" font-size="12.45" text-anchor="middle" font-weight="normal" fill="#1a1a1a" stroke="#1a1a1a" stroke-width="0.18" >Helper</text>
<text x="153.80" y="535.10" font-size="12.45" text-anchor="middle" font-weight="normal" fill="#1a1a1a" stroke="#1a1a1a" stroke-width="0.18" >T cell</text>
<text x="213.70" y="520.60" font-size="12.45" text-anchor="middle" font-weight="normal" fill="#1a1a1a" stroke="#1a1a1a" stroke-width="0.18" >CD8+</text>
<text x="214.10" y="535.10" font-size="12.45" text-anchor="middle" font-weight="normal" fill="#1a1a1a" stroke="#1a1a1a" stroke-width="0.18" >T cell</text>
<text transform="translate(12.40,441.00) rotate(-90)" font-size="12.45" text-anchor="middle" fill="#1a1a1a" stroke="#1a1a1a" stroke-width="0.18">Percent of</text>
<text transform="translate(26.60,439.40) rotate(-90)" font-size="12.45" text-anchor="middle" fill="#1a1a1a" stroke="#1a1a1a" stroke-width="0.18">control mean (%)</text>
<text x="379.00" y="361.20" font-size="12.45" text-anchor="middle" font-weight="normal" fill="#1a1a1a" stroke="#1a1a1a" stroke-width="0.18" >CD8+ T cell/Treg</text>
<line x1="298.6" y1="393.6" x2="298.6" y2="505.3" stroke="#111" stroke-width="1.3"/>
<line x1="297.7" y1="505.3" x2="466.5" y2="505.3" stroke="#111" stroke-width="1.3"/>
<line x1="295.2" y1="394.2" x2="298.6" y2="394.2" stroke="#111" stroke-width="1.2"/>
<text x="294.90" y="399.00" font-size="12.2" text-anchor="end" font-weight="normal" fill="#1a1a1a" stroke="#1a1a1a" stroke-width="0.18" >3</text>
<line x1="295.2" y1="431.2" x2="298.6" y2="431.2" stroke="#111" stroke-width="1.2"/>
<text x="294.90" y="436.00" font-size="12.2" text-anchor="end" font-weight="normal" fill="#1a1a1a" stroke="#1a1a1a" stroke-width="0.18" >2</text>
<line x1="295.2" y1="468.3" x2="298.6" y2="468.3" stroke="#111" stroke-width="1.2"/>
<text x="294.90" y="473.10" font-size="12.2" text-anchor="end" font-weight="normal" fill="#1a1a1a" stroke="#1a1a1a" stroke-width="0.18" >1</text>
<line x1="295.2" y1="505.3" x2="298.6" y2="505.3" stroke="#111" stroke-width="1.2"/>
<text x="294.90" y="510.10" font-size="12.2" text-anchor="end" font-weight="normal" fill="#1a1a1a" stroke="#1a1a1a" stroke-width="0.18" >0</text>
<line x1="324.40" y1="438.15" x2="324.40" y2="434.10" stroke="#000" stroke-width="1.36"/>
<line x1="318.40" y1="434.10" x2="330.40" y2="434.10" stroke="#000" stroke-width="1.53"/>
<rect x="312.35" y="438.15" width="24.20" height="67.15" fill="#ffffff" stroke="none"/>
<path d="M312.35,505.30 L312.35,438.15 L336.55,438.15 L336.55,505.30" fill="none" stroke="#000" stroke-width="1.7" stroke-linejoin="miter"/>
<line x1="363.10" y1="437.55" x2="363.10" y2="435.00" stroke="#000" stroke-width="1.36"/>
<line x1="357.10" y1="435.00" x2="369.10" y2="435.00" stroke="#000" stroke-width="1.53"/>
<rect x="351.15" y="437.55" width="24.00" height="67.75" fill="#d3d3d3" stroke="none"/>
<path d="M351.15,505.30 L351.15,437.55 L375.15,437.55 L375.15,505.30" fill="none" stroke="#000" stroke-width="1.7" stroke-linejoin="miter"/>
<line x1="402.00" y1="434.15" x2="402.00" y2="429.70" stroke="#000" stroke-width="1.36"/>
<line x1="396.00" y1="429.70" x2="408.00" y2="429.70" stroke="#000" stroke-width="1.53"/>
<rect x="389.85" y="434.15" width="24.40" height="71.15" fill="#808080" stroke="none"/>
<path d="M389.85,505.30 L389.85,434.15 L414.25,434.15 L414.25,505.30" fill="none" stroke="#000" stroke-width="1.7" stroke-linejoin="miter"/>
<line x1="440.50" y1="414.05" x2="440.50" y2="408.60" stroke="#000" stroke-width="1.36"/>
<line x1="434.50" y1="408.60" x2="446.50" y2="408.60" stroke="#000" stroke-width="1.53"/>
<rect x="428.25" y="414.05" width="24.60" height="91.25" fill="#000000" stroke="none"/>
<path d="M428.25,505.30 L428.25,414.05 L452.85,414.05 L452.85,505.30" fill="none" stroke="#000" stroke-width="1.7" stroke-linejoin="miter"/>
<line x1="297.7" y1="505.3" x2="466.5" y2="505.3" stroke="#111" stroke-width="1.05"/>
<line x1="324.60" y1="383.70" x2="440.40" y2="383.70" stroke="#000" stroke-width="1.8"/>
<path d="M374.22,376.74 L374.77,378.04 L376.17,378.16 L375.10,379.08 L375.43,380.45 L374.22,379.71 L373.02,380.45 L373.35,379.08 L372.28,378.16 L373.68,378.04ZM379.17,376.74 L379.72,378.04 L381.12,378.16 L380.05,379.08 L380.38,380.45 L379.17,379.71 L377.97,380.45 L378.30,379.08 L377.23,378.16 L378.63,378.04ZM384.12,376.74 L384.67,378.04 L386.07,378.16 L385.00,379.08 L385.33,380.45 L384.12,379.71 L382.92,380.45 L383.25,379.08 L382.18,378.16 L383.58,378.04ZM389.07,376.74 L389.62,378.04 L391.02,378.16 L389.95,379.08 L390.28,380.45 L389.07,379.71 L387.87,380.45 L388.20,379.08 L387.13,378.16 L388.53,378.04Z" fill="#1a1a1a" stroke="#1a1a1a" stroke-width="0.35" stroke-linejoin="round"/>
<line x1="363.40" y1="394.10" x2="440.40" y2="394.10" stroke="#000" stroke-width="1.8"/>
<path d="M389.88,389.04 L390.42,390.34 L391.82,390.46 L390.75,391.38 L391.08,392.75 L389.88,392.01 L388.67,392.75 L389.00,391.38 L387.93,390.46 L389.33,390.34ZM394.82,389.04 L395.37,390.34 L396.77,390.46 L395.70,391.38 L396.03,392.75 L394.82,392.01 L393.62,392.75 L393.95,391.38 L392.88,390.46 L394.28,390.34ZM399.78,389.04 L400.32,390.34 L401.72,390.46 L400.65,391.38 L400.98,392.75 L399.78,392.01 L398.57,392.75 L398.90,391.38 L397.83,390.46 L399.23,390.34ZM404.73,389.04 L405.27,390.34 L406.67,390.46 L405.60,391.38 L405.93,392.75 L404.73,392.01 L403.52,392.75 L403.85,391.38 L402.78,390.46 L404.18,390.34Z" fill="#1a1a1a" stroke="#1a1a1a" stroke-width="0.35" stroke-linejoin="round"/>
<line x1="402.00" y1="404.90" x2="440.40" y2="404.90" stroke="#000" stroke-width="1.8"/>
<path d="M412.38,399.34 L412.92,400.64 L414.32,400.76 L413.25,401.68 L413.58,403.05 L412.38,402.31 L411.17,403.05 L411.50,401.68 L410.43,400.76 L411.83,400.64ZM417.32,399.34 L417.87,400.64 L419.27,400.76 L418.20,401.68 L418.53,403.05 L417.32,402.31 L416.12,403.05 L416.45,401.68 L415.38,400.76 L416.78,400.64ZM422.28,399.34 L422.82,400.64 L424.22,400.76 L423.15,401.68 L423.48,403.05 L422.28,402.31 L421.07,403.05 L421.40,401.68 L420.33,400.76 L421.73,400.64ZM427.23,399.34 L427.77,400.64 L429.17,400.76 L428.10,401.68 L428.43,403.05 L427.23,402.31 L426.02,403.05 L426.35,401.68 L425.28,400.76 L426.68,400.64Z" fill="#1a1a1a" stroke="#1a1a1a" stroke-width="0.35" stroke-linejoin="round"/>
<text transform="translate(277.60,438.85) rotate(-90)" font-size="12.45" text-anchor="middle" fill="#1a1a1a" stroke="#1a1a1a" stroke-width="0.18">CD8+ T cell / Treg ratio</text>
<rect x="477.5" y="396.55" width="10.1" height="3.8" fill="#ffffff" stroke="#000" stroke-width="2.1"/>
<rect x="477.5" y="417.75" width="10.1" height="3.8" fill="#d3d3d3" stroke="#000" stroke-width="2.1"/>
<rect x="477.5" y="438.95" width="10.1" height="3.8" fill="#808080" stroke="#000" stroke-width="2.1"/>
<rect x="477.5" y="460.15" width="10.1" height="3.8" fill="#000000" stroke="#000" stroke-width="2.1"/>
<text x="494.30" y="402.70" font-size="12.45" text-anchor="start" font-weight="normal" fill="#1a1a1a" stroke="#1a1a1a" stroke-width="0.18" >Control</text>
<text x="494.30" y="423.75" font-size="12.45" text-anchor="start" font-weight="normal" fill="#1a1a1a" stroke="#1a1a1a" stroke-width="0.18" >APC only</text>
<text x="494.30" y="444.80" font-size="12.45" text-anchor="start" font-weight="normal" fill="#1a1a1a" stroke="#1a1a1a" stroke-width="0.18" >APC + NIR-light 20 J/cm<tspan font-size="9.4" dy="-4.2">2</tspan></text>
<text x="494.30" y="465.85" font-size="12.45" text-anchor="start" font-weight="normal" fill="#1a1a1a" stroke="#1a1a1a" stroke-width="0.18" >APC + NIR-light 50 J/cm<tspan font-size="9.4" dy="-4.2">2</tspan></text>
<text x="9.10" y="556.50" font-size="25.6" text-anchor="start" font-weight="bold" fill="#000" stroke="#000" stroke-width="0" >c</text>
<text x="153.00" y="567.40" font-size="12.45" text-anchor="middle" font-weight="normal" fill="#1a1a1a" stroke="#1a1a1a" stroke-width="0.18" >M-MDSC</text>
<line x1="65.6" y1="594.0" x2="65.6" y2="707.3" stroke="#111" stroke-width="1.3"/>
<line x1="65" y1="707.3" x2="236.2" y2="707.3" stroke="#111" stroke-width="1.3"/>
<line x1="61.3" y1="707.30" x2="65.6" y2="707.30" stroke="#111" stroke-width="1.2"/>
<text x="59.40" y="711.10" font-size="12.3" text-anchor="end" font-weight="normal" fill="#1a1a1a" stroke="#1a1a1a" stroke-width="0.18" >0</text>
<line x1="61.3" y1="684.76" x2="65.6" y2="684.76" stroke="#111" stroke-width="1.2"/>
<text x="59.40" y="688.56" font-size="12.3" text-anchor="end" font-weight="normal" fill="#1a1a1a" stroke="#1a1a1a" stroke-width="0.18" >1000</text>
<line x1="61.3" y1="662.22" x2="65.6" y2="662.22" stroke="#111" stroke-width="1.2"/>
<text x="59.40" y="666.02" font-size="12.3" text-anchor="end" font-weight="normal" fill="#1a1a1a" stroke="#1a1a1a" stroke-width="0.18" >2000</text>
<line x1="61.3" y1="639.68" x2="65.6" y2="639.68" stroke="#111" stroke-width="1.2"/>
<text x="59.40" y="643.48" font-size="12.3" text-anchor="end" font-weight="normal" fill="#1a1a1a" stroke="#1a1a1a" stroke-width="0.18" >3000</text>
<line x1="61.3" y1="617.14" x2="65.6" y2="617.14" stroke="#111" stroke-width="1.2"/>
<text x="59.40" y="620.94" font-size="12.3" text-anchor="end" font-weight="normal" fill="#1a1a1a" stroke="#1a1a1a" stroke-width="0.18" >4000</text>
<line x1="61.3" y1="594.60" x2="65.6" y2="594.60" stroke="#111" stroke-width="1.2"/>
<text x="59.40" y="598.40" font-size="12.3" text-anchor="end" font-weight="normal" fill="#1a1a1a" stroke="#1a1a1a" stroke-width="0.18" >5000</text>
<line x1="91.05" y1="627.20" x2="91.05" y2="624.30" stroke="#000" stroke-width="1.44"/>
<line x1="84.85" y1="624.30" x2="97.25" y2="624.30" stroke="#000" stroke-width="1.62"/>
<rect x="78.90" y="627.20" width="24.40" height="80.10" fill="#ffffff" stroke="none"/>
<path d="M78.90,707.30 L78.90,627.20 L103.30,627.20 L103.30,707.30" fill="none" stroke="#000" stroke-width="1.8" stroke-linejoin="miter"/>
<line x1="130.15" y1="626.50" x2="130.15" y2="618.50" stroke="#000" stroke-width="1.44"/>
<line x1="123.95" y1="618.50" x2="136.35" y2="618.50" stroke="#000" stroke-width="1.62"/>
<rect x="118.00" y="626.50" width="24.40" height="80.80" fill="#d3d3d3" stroke="none"/>
<path d="M118.00,707.30 L118.00,626.50 L142.40,626.50 L142.40,707.30" fill="none" stroke="#000" stroke-width="1.8" stroke-linejoin="miter"/>
<line x1="169.90" y1="646.50" x2="169.90" y2="644.20" stroke="#000" stroke-width="1.44"/>
<line x1="163.70" y1="644.20" x2="176.10" y2="644.20" stroke="#000" stroke-width="1.62"/>
<rect x="157.90" y="646.50" width="24.10" height="60.80" fill="#808080" stroke="none"/>
<path d="M157.90,707.30 L157.90,646.50 L182.00,646.50 L182.00,707.30" fill="none" stroke="#000" stroke-width="1.8" stroke-linejoin="miter"/>
<line x1="208.65" y1="679.40" x2="208.65" y2="673.20" stroke="#000" stroke-width="1.44"/>
<line x1="202.45" y1="673.20" x2="214.85" y2="673.20" stroke="#000" stroke-width="1.62"/>
<rect x="196.40" y="679.40" width="24.60" height="27.90" fill="#000000" stroke="none"/>
<path d="M196.40,707.30 L196.40,679.40 L221.00,679.40 L221.00,707.30" fill="none" stroke="#000" stroke-width="1.8" stroke-linejoin="miter"/>
<line x1="65" y1="707.3" x2="236.2" y2="707.3" stroke="#111" stroke-width="1.05"/>
<line x1="91.70" y1="585.80" x2="208.70" y2="585.80" stroke="#000" stroke-width="1.8"/>
<path d="M140.77,579.54 L141.32,580.84 L142.72,580.96 L141.65,581.88 L141.98,583.25 L140.77,582.51 L139.57,583.25 L139.90,581.88 L138.83,580.96 L140.23,580.84ZM145.72,579.54 L146.27,580.84 L147.67,580.96 L146.60,581.88 L146.93,583.25 L145.72,582.51 L144.52,583.25 L144.85,581.88 L143.78,580.96 L145.18,580.84ZM150.67,579.54 L151.22,580.84 L152.62,580.96 L151.55,581.88 L151.88,583.25 L150.67,582.51 L149.47,583.25 L149.80,581.88 L148.73,580.96 L150.13,580.84ZM155.62,579.54 L156.17,580.84 L157.57,580.96 L156.50,581.88 L156.83,583.25 L155.62,582.51 L154.42,583.25 L154.75,581.88 L153.68,580.96 L155.08,580.84Z" fill="#1a1a1a" stroke="#1a1a1a" stroke-width="0.35" stroke-linejoin="round"/>
<line x1="130.40" y1="592.80" x2="208.70" y2="592.80" stroke="#000" stroke-width="1.8"/>
<path d="M157.27,587.64 L157.82,588.94 L159.22,589.06 L158.15,589.98 L158.48,591.35 L157.27,590.61 L156.07,591.35 L156.40,589.98 L155.33,589.06 L156.73,588.94ZM162.22,587.64 L162.77,588.94 L164.17,589.06 L163.10,589.98 L163.43,591.35 L162.22,590.61 L161.02,591.35 L161.35,589.98 L160.28,589.06 L161.68,588.94ZM167.17,587.64 L167.72,588.94 L169.12,589.06 L168.05,589.98 L168.38,591.35 L167.17,590.61 L165.97,591.35 L166.30,589.98 L165.23,589.06 L166.63,588.94ZM172.12,587.64 L172.67,588.94 L174.07,589.06 L173.00,589.98 L173.33,591.35 L172.12,590.61 L170.92,591.35 L171.25,589.98 L170.18,589.06 L171.58,588.94Z" fill="#1a1a1a" stroke="#1a1a1a" stroke-width="0.35" stroke-linejoin="round"/>
<line x1="169.40" y1="599.90" x2="208.70" y2="599.90" stroke="#000" stroke-width="1.8"/>
<path d="M180.77,595.04 L181.32,596.34 L182.72,596.46 L181.65,597.38 L181.98,598.75 L180.77,598.01 L179.57,598.75 L179.90,597.38 L178.83,596.46 L180.23,596.34ZM185.72,595.04 L186.27,596.34 L187.67,596.46 L186.60,597.38 L186.93,598.75 L185.72,598.01 L184.52,598.75 L184.85,597.38 L183.78,596.46 L185.18,596.34ZM190.67,595.04 L191.22,596.34 L192.62,596.46 L191.55,597.38 L191.88,598.75 L190.67,598.01 L189.47,598.75 L189.80,597.38 L188.73,596.46 L190.13,596.34ZM195.62,595.04 L196.17,596.34 L197.57,596.46 L196.50,597.38 L196.83,598.75 L195.62,598.01 L194.42,598.75 L194.75,597.38 L193.68,596.46 L195.08,596.34Z" fill="#1a1a1a" stroke="#1a1a1a" stroke-width="0.35" stroke-linejoin="round"/>
<line x1="92.30" y1="608.00" x2="169.10" y2="608.00" stroke="#000" stroke-width="1.8"/>
<path d="M124.08,602.74 L124.62,604.04 L126.02,604.16 L124.95,605.08 L125.28,606.45 L124.08,605.71 L122.87,606.45 L123.20,605.08 L122.13,604.16 L123.53,604.04ZM129.03,602.74 L129.57,604.04 L130.97,604.16 L129.90,605.08 L130.23,606.45 L129.03,605.71 L127.82,606.45 L128.15,605.08 L127.08,604.16 L128.48,604.04ZM133.97,602.74 L134.52,604.04 L135.92,604.16 L134.85,605.08 L135.18,606.45 L133.97,605.71 L132.77,606.45 L133.10,605.08 L132.03,604.16 L133.43,604.04ZM138.93,602.74 L139.47,604.04 L140.87,604.16 L139.80,605.08 L140.13,606.45 L138.93,605.71 L137.72,606.45 L138.05,605.08 L136.98,604.16 L138.38,604.04Z" fill="#1a1a1a" stroke="#1a1a1a" stroke-width="0.35" stroke-linejoin="round"/>
<line x1="131.00" y1="614.80" x2="169.10" y2="614.80" stroke="#000" stroke-width="1.8"/>
<path d="M142.77,609.84 L143.32,611.14 L144.72,611.26 L143.65,612.18 L143.98,613.55 L142.77,612.81 L141.57,613.55 L141.90,612.18 L140.83,611.26 L142.23,611.14ZM147.72,609.84 L148.27,611.14 L149.67,611.26 L148.60,612.18 L148.93,613.55 L147.72,612.81 L146.52,613.55 L146.85,612.18 L145.78,611.26 L147.18,611.14ZM152.67,609.84 L153.22,611.14 L154.62,611.26 L153.55,612.18 L153.88,613.55 L152.67,612.81 L151.47,613.55 L151.80,612.18 L150.73,611.26 L152.13,611.14ZM157.62,609.84 L158.17,611.14 L159.57,611.26 L158.50,612.18 L158.83,613.55 L157.62,612.81 L156.42,613.55 L156.75,612.18 L155.68,611.26 L157.08,611.14Z" fill="#1a1a1a" stroke="#1a1a1a" stroke-width="0.35" stroke-linejoin="round"/>
<text transform="translate(23.00,643.75) rotate(-90)" font-size="12.45" text-anchor="middle" fill="#1a1a1a" stroke="#1a1a1a" stroke-width="0.18">Counts per 100,000 cells</text>
<text x="393.20" y="567.40" font-size="12.45" text-anchor="middle" font-weight="normal" fill="#1a1a1a" stroke="#1a1a1a" stroke-width="0.18" >G-MDSC</text>
<line x1="300.9" y1="590.5" x2="300.9" y2="706.6" stroke="#111" stroke-width="1.3"/>
<line x1="300.3" y1="706.6" x2="469" y2="706.6" stroke="#111" stroke-width="1.3"/>
<line x1="296.8" y1="591.2" x2="300.9" y2="591.2" stroke="#111" stroke-width="1.2"/>
<text x="294.40" y="596.10" font-size="11.7" text-anchor="end" font-weight="normal" fill="#1a1a1a" stroke="#1a1a1a" stroke-width="0.18" >150</text>
<line x1="296.8" y1="629.6" x2="300.9" y2="629.6" stroke="#111" stroke-width="1.2"/>
<text x="294.40" y="634.50" font-size="11.7" text-anchor="end" font-weight="normal" fill="#1a1a1a" stroke="#1a1a1a" stroke-width="0.18" >100</text>
<line x1="296.8" y1="668.1" x2="300.9" y2="668.1" stroke="#111" stroke-width="1.2"/>
<text x="294.40" y="673.00" font-size="11.7" text-anchor="end" font-weight="normal" fill="#1a1a1a" stroke="#1a1a1a" stroke-width="0.18" >50</text>
<line x1="296.8" y1="706.6" x2="300.9" y2="706.6" stroke="#111" stroke-width="1.2"/>
<text x="294.40" y="711.50" font-size="11.7" text-anchor="end" font-weight="normal" fill="#1a1a1a" stroke="#1a1a1a" stroke-width="0.18" >0</text>
<line x1="327.75" y1="619.00" x2="327.75" y2="598.20" stroke="#000" stroke-width="1.44"/>
<line x1="321.35" y1="598.20" x2="334.15" y2="598.20" stroke="#000" stroke-width="1.62"/>
<rect x="315.30" y="619.00" width="25.00" height="87.60" fill="#ffffff" stroke="none"/>
<path d="M315.30,706.60 L315.30,619.00 L340.30,619.00 L340.30,706.60" fill="none" stroke="#000" stroke-width="1.8" stroke-linejoin="miter"/>
<line x1="367.90" y1="626.20" x2="367.90" y2="615.30" stroke="#000" stroke-width="1.44"/>
<line x1="361.50" y1="615.30" x2="374.30" y2="615.30" stroke="#000" stroke-width="1.62"/>
<rect x="355.30" y="626.20" width="25.30" height="80.40" fill="#d3d3d3" stroke="none"/>
<path d="M355.30,706.60 L355.30,626.20 L380.60,626.20 L380.60,706.60" fill="none" stroke="#000" stroke-width="1.8" stroke-linejoin="miter"/>
<line x1="408.00" y1="639.50" x2="408.00" y2="631.70" stroke="#000" stroke-width="1.44"/>
<line x1="401.60" y1="631.70" x2="414.40" y2="631.70" stroke="#000" stroke-width="1.62"/>
<rect x="395.50" y="639.50" width="25.10" height="67.10" fill="#808080" stroke="none"/>
<path d="M395.50,706.60 L395.50,639.50 L420.60,639.50 L420.60,706.60" fill="none" stroke="#000" stroke-width="1.8" stroke-linejoin="miter"/>
<line x1="448.50" y1="655.90" x2="448.50" y2="652.20" stroke="#000" stroke-width="1.44"/>
<line x1="442.10" y1="652.20" x2="454.90" y2="652.20" stroke="#000" stroke-width="1.62"/>
<rect x="435.50" y="655.90" width="26.10" height="50.70" fill="#000000" stroke="none"/>
<path d="M435.50,706.60 L435.50,655.90 L461.60,655.90 L461.60,706.60" fill="none" stroke="#000" stroke-width="1.8" stroke-linejoin="miter"/>
<line x1="300.3" y1="706.6" x2="469" y2="706.6" stroke="#111" stroke-width="1.05"/>
<line x1="328.30" y1="589.70" x2="448.30" y2="589.70" stroke="#000" stroke-width="1.8"/>
<path d="M385.22,582.14 L385.77,583.44 L387.17,583.56 L386.10,584.48 L386.43,585.85 L385.22,585.11 L384.02,585.85 L384.35,584.48 L383.28,583.56 L384.68,583.44ZM390.18,582.14 L390.72,583.44 L392.12,583.56 L391.05,584.48 L391.38,585.85 L390.18,585.11 L388.97,585.85 L389.30,584.48 L388.23,583.56 L389.63,583.44Z" fill="#1a1a1a" stroke="#1a1a1a" stroke-width="0.35" stroke-linejoin="round"/>
<line x1="367.70" y1="597.50" x2="448.30" y2="597.50" stroke="#000" stroke-width="1.8"/>
<path d="M407.00,592.54 L407.54,593.84 L408.95,593.96 L407.88,594.88 L408.20,596.25 L407.00,595.51 L405.80,596.25 L406.12,594.88 L405.05,593.96 L406.46,593.84Z" fill="#1a1a1a" stroke="#1a1a1a" stroke-width="0.35" stroke-linejoin="round"/>
<text transform="translate(272.70,643.50) rotate(-90)" font-size="12.45" text-anchor="middle" fill="#1a1a1a" stroke="#1a1a1a" stroke-width="0.18">Counts per 100,000 cells</text>
<rect x="477.5" y="601.85" width="10.1" height="3.8" fill="#ffffff" stroke="#000" stroke-width="2.1"/>
<rect x="477.5" y="623.05" width="10.1" height="3.8" fill="#d3d3d3" stroke="#000" stroke-width="2.1"/>
<rect x="477.5" y="644.25" width="10.1" height="3.8" fill="#808080" stroke="#000" stroke-width="2.1"/>
<rect x="477.5" y="665.45" width="10.1" height="3.8" fill="#000000" stroke="#000" stroke-width="2.1"/>
<text x="494.30" y="608.00" font-size="12.45" text-anchor="start" font-weight="normal" fill="#1a1a1a" stroke="#1a1a1a" stroke-width="0.18" >Control</text>
<text x="494.30" y="629.05" font-size="12.45" text-anchor="start" font-weight="normal" fill="#1a1a1a" stroke="#1a1a1a" stroke-width="0.18" >APC only</text>
<text x="494.30" y="650.10" font-size="12.45" text-anchor="start" font-weight="normal" fill="#1a1a1a" stroke="#1a1a1a" stroke-width="0.18" >APC + NIR-light 20 J/cm<tspan font-size="9.4" dy="-4.2">2</tspan></text>
<text x="494.30" y="671.15" font-size="12.45" text-anchor="start" font-weight="normal" fill="#1a1a1a" stroke="#1a1a1a" stroke-width="0.18" >APC + NIR-light 50 J/cm<tspan font-size="9.4" dy="-4.2">2</tspan></text>
</svg>
</body></html>
